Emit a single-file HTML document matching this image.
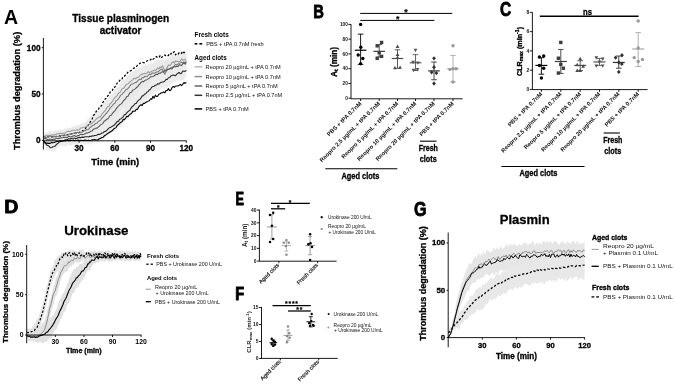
<!DOCTYPE html>
<html><head><meta charset="utf-8"><style>
html,body{margin:0;padding:0;background:#fff;}
svg{display:block;font-family:"Liberation Sans", sans-serif;will-change:transform;filter:blur(0.3px);}
</style></head><body>
<svg width="675" height="384" viewBox="0 0 675 384">
<rect width="675" height="384" fill="#fff"/>
<text transform="translate(3.93 23.70) scale(1.0 1)" x="0" y="0" font-size="19.50" font-weight="bold" fill="#000">A</text>
<text x="120.70" y="21.50" font-size="10.1" font-weight="bold" stroke="#000" stroke-width="0.3" text-anchor="middle" fill="#000">Tissue plasminogen</text>
<text x="120.60" y="33.60" font-size="10.0" font-weight="bold" stroke="#000" stroke-width="0.3" text-anchor="middle" fill="#000">activator</text>
<path d="M43.40,133.97 L44.59,133.18 L45.78,131.83 L46.97,133.21 L48.16,132.51 L49.35,130.76 L50.55,131.27 L51.74,131.68 L52.93,131.33 L54.12,131.27 L55.31,130.55 L56.50,130.06 L57.69,131.13 L58.88,129.36 L60.07,129.56 L61.26,129.34 L62.45,129.97 L63.64,129.54 L64.84,128.04 L66.03,129.81 L67.22,127.21 L68.41,127.86 L69.60,127.90 L70.79,128.04 L71.98,127.09 L73.17,126.53 L74.36,125.75 L75.55,125.97 L76.74,125.15 L77.93,124.74 L79.12,124.91 L80.32,123.87 L81.51,124.62 L82.70,122.27 L83.89,123.62 L85.08,121.89 L86.27,121.32 L87.46,118.75 L88.65,118.51 L89.84,117.27 L91.03,115.76 L92.22,115.64 L93.41,114.93 L94.61,112.86 L95.80,112.72 L96.99,110.31 L98.18,110.94 L99.37,109.20 L100.56,106.42 L101.75,106.30 L102.94,104.31 L104.13,103.07 L105.32,100.54 L106.51,100.48 L107.71,99.54 L108.90,96.01 L110.09,95.72 L111.28,94.61 L112.47,94.22 L113.66,91.03 L114.85,89.55 L116.04,87.91 L117.23,86.35 L118.42,86.76 L119.61,83.45 L120.80,83.21 L122.00,80.95 L123.19,80.38 L124.38,79.20 L125.57,78.22 L126.76,75.73 L127.95,75.13 L129.14,74.67 L130.33,72.13 L131.52,72.85 L132.71,70.62 L133.90,71.03 L135.09,68.98 L136.28,68.29 L137.48,69.10 L138.67,66.94 L139.86,68.14 L141.05,66.68 L142.24,65.36 L143.43,66.61 L144.62,64.46 L145.81,64.04 L147.00,65.50 L148.19,63.23 L149.38,64.05 L150.58,63.43 L151.77,61.61 L152.96,63.70 L154.15,60.78 L155.34,61.52 L156.53,59.65 L157.72,59.66 L158.91,59.40 L160.10,59.94 L161.29,59.62 L162.48,58.97 L163.67,59.58 L164.87,59.94 L166.06,59.04 L167.25,57.31 L168.44,58.51 L169.63,57.33 L170.82,55.22 L172.01,55.17 L173.20,54.02 L174.39,54.57 L175.58,53.63 L176.77,53.67 L177.96,52.86 L179.16,53.56 L180.35,51.08 L181.54,50.88 L182.73,50.86 L183.92,51.92 L185.11,50.75 L186.30,49.95 L186.30,66.35 L185.11,66.87 L183.92,66.72 L182.73,68.92 L181.54,67.10 L180.35,69.79 L179.16,70.14 L177.96,70.52 L176.77,69.11 L175.58,71.04 L174.39,71.57 L173.20,70.58 L172.01,72.84 L170.82,72.43 L169.63,72.54 L168.44,74.52 L167.25,75.32 L166.06,78.00 L164.87,78.29 L163.67,75.87 L162.48,75.31 L161.29,74.34 L160.10,75.60 L158.91,76.59 L157.72,77.97 L156.53,76.76 L155.34,79.28 L154.15,79.88 L152.96,80.24 L151.77,78.50 L150.58,79.64 L149.38,80.08 L148.19,80.10 L147.00,80.58 L145.81,81.15 L144.62,82.39 L143.43,81.80 L142.24,83.84 L141.05,82.59 L139.86,83.01 L138.67,84.56 L137.48,85.75 L136.28,85.04 L135.09,86.42 L133.90,86.76 L132.71,86.75 L131.52,88.49 L130.33,88.93 L129.14,90.06 L127.95,92.66 L126.76,91.86 L125.57,94.01 L124.38,95.79 L123.19,96.17 L122.00,97.40 L120.80,99.09 L119.61,101.91 L118.42,100.89 L117.23,104.27 L116.04,104.69 L114.85,106.50 L113.66,106.86 L112.47,109.90 L111.28,111.29 L110.09,111.19 L108.90,114.08 L107.71,114.94 L106.51,117.58 L105.32,118.47 L104.13,120.26 L102.94,121.66 L101.75,122.93 L100.56,123.87 L99.37,126.64 L98.18,127.38 L96.99,126.35 L95.80,128.00 L94.61,127.90 L93.41,128.98 L92.22,132.49 L91.03,133.29 L89.84,132.14 L88.65,131.90 L87.46,132.46 L86.27,135.03 L85.08,133.80 L83.89,136.04 L82.70,136.94 L81.51,134.74 L80.32,136.53 L79.12,135.83 L77.93,137.07 L76.74,138.35 L75.55,136.31 L74.36,138.80 L73.17,138.81 L71.98,138.93 L70.79,138.23 L69.60,137.86 L68.41,137.81 L67.22,138.37 L66.03,137.94 L64.84,137.80 L63.64,140.31 L62.45,140.12 L61.26,140.61 L60.07,140.62 L58.88,139.58 L57.69,138.45 L56.50,140.10 L55.31,138.78 L54.12,140.86 L52.93,141.47 L51.74,139.73 L50.55,140.67 L49.35,140.47 L48.16,139.41 L46.97,141.00 L45.78,139.07 L44.59,141.09 L43.40,141.24Z" fill="#ebebeb" stroke="none"/>
<path d="M43.40,132.95 L44.59,135.65 L45.78,135.49 L46.97,132.43 L48.16,135.82 L49.35,134.93 L50.55,134.65 L51.74,133.50 L52.93,134.69 L54.12,134.66 L55.31,132.20 L56.50,134.31 L57.69,132.99 L58.88,131.24 L60.07,130.94 L61.26,132.08 L62.45,131.61 L63.64,131.66 L64.84,131.28 L66.03,130.77 L67.22,132.24 L68.41,130.66 L69.60,128.49 L70.79,128.36 L71.98,130.44 L73.17,130.67 L74.36,128.40 L75.55,127.64 L76.74,127.58 L77.93,129.64 L79.12,129.69 L80.32,126.50 L81.51,128.66 L82.70,125.36 L83.89,128.17 L85.08,127.34 L86.27,124.74 L87.46,123.06 L88.65,122.98 L89.84,122.44 L91.03,121.94 L92.22,121.15 L93.41,122.99 L94.61,120.41 L95.80,120.89 L96.99,120.15 L98.18,117.57 L99.37,118.26 L100.56,117.43 L101.75,117.38 L102.94,112.92 L104.13,112.60 L105.32,111.65 L106.51,110.55 L107.71,110.10 L108.90,107.41 L110.09,109.19 L111.28,104.88 L112.47,105.30 L113.66,104.87 L114.85,103.43 L116.04,101.62 L117.23,98.84 L118.42,98.92 L119.61,97.10 L120.80,95.09 L122.00,95.10 L123.19,92.79 L124.38,92.60 L125.57,90.71 L126.76,90.04 L127.95,87.46 L129.14,86.17 L130.33,83.53 L131.52,83.53 L132.71,80.96 L133.90,80.31 L135.09,80.19 L136.28,79.95 L137.48,77.21 L138.67,75.44 L139.86,76.80 L141.05,75.73 L142.24,72.30 L143.43,73.74 L144.62,72.84 L145.81,70.62 L147.00,72.29 L148.19,70.87 L149.38,69.11 L150.58,70.55 L151.77,68.31 L152.96,68.56 L154.15,65.28 L155.34,66.34 L156.53,66.87 L157.72,67.00 L158.91,63.58 L160.10,62.99 L161.29,63.14 L162.48,64.43 L163.67,62.62 L164.87,63.57 L166.06,60.50 L167.25,61.59 L168.44,61.26 L169.63,59.94 L170.82,60.02 L172.01,59.24 L173.20,60.51 L174.39,58.33 L175.58,56.93 L176.77,58.77 L177.96,57.41 L179.16,56.84 L180.35,57.71 L181.54,58.23 L182.73,55.31 L183.92,54.99 L185.11,56.36 L186.30,53.86 L186.30,70.23 L185.11,71.75 L183.92,72.04 L182.73,73.10 L181.54,74.12 L180.35,72.50 L179.16,73.92 L177.96,74.66 L176.77,75.65 L175.58,73.89 L174.39,74.20 L173.20,77.46 L172.01,76.95 L170.82,75.77 L169.63,78.10 L168.44,77.38 L167.25,76.98 L166.06,79.54 L164.87,80.33 L163.67,81.01 L162.48,81.01 L161.29,81.79 L160.10,80.85 L158.91,80.29 L157.72,83.69 L156.53,83.33 L155.34,81.78 L154.15,83.25 L152.96,84.49 L151.77,84.70 L150.58,84.80 L149.38,86.75 L148.19,86.25 L147.00,88.70 L145.81,86.62 L144.62,88.55 L143.43,90.87 L142.24,91.80 L141.05,92.01 L139.86,91.44 L138.67,92.48 L137.48,96.25 L136.28,96.46 L135.09,95.75 L133.90,99.57 L132.71,98.60 L131.52,100.97 L130.33,101.62 L129.14,103.98 L127.95,104.44 L126.76,107.22 L125.57,107.75 L124.38,107.55 L123.19,108.96 L122.00,108.97 L120.80,111.23 L119.61,114.78 L118.42,115.61 L117.23,117.92 L116.04,116.63 L114.85,119.32 L113.66,119.53 L112.47,122.59 L111.28,123.18 L110.09,125.30 L108.90,124.27 L107.71,127.26 L106.51,127.95 L105.32,129.99 L104.13,128.94 L102.94,131.04 L101.75,132.52 L100.56,133.26 L99.37,134.07 L98.18,134.80 L96.99,136.34 L95.80,135.43 L94.61,138.55 L93.41,137.40 L92.22,140.37 L91.03,137.96 L89.84,139.98 L88.65,138.68 L87.46,141.16 L86.27,142.57 L85.08,142.97 L83.89,143.24 L82.70,140.97 L81.51,140.86 L80.32,140.84 L79.12,141.36 L77.93,143.14 L76.74,143.14 L75.55,143.62 L74.36,144.52 L73.17,144.34 L71.98,143.14 L70.79,144.45 L69.60,142.99 L68.41,144.96 L67.22,143.35 L66.03,144.41 L64.84,142.79 L63.64,144.50 L62.45,144.58 L61.26,143.40 L60.07,144.38 L58.88,143.52 L57.69,144.40 L56.50,142.87 L55.31,143.68 L54.12,144.41 L52.93,143.66 L51.74,143.87 L50.55,145.02 L49.35,143.76 L48.16,144.30 L46.97,145.33 L45.78,142.14 L44.59,142.08 L43.40,141.40Z" fill="#e9e9e9" stroke="none"/>
<path d="M43.40,138.01 L44.59,137.77 L45.78,140.53 L46.97,140.75 L48.16,142.30 L49.35,143.89 L50.55,144.42 L51.74,141.94 L52.93,143.74 L54.12,142.26 L55.31,139.92 L56.50,139.66 L57.69,139.05 L58.88,137.50 L60.07,137.89 L61.26,135.18 L62.45,134.55 L63.64,133.50 L64.84,134.52 L66.03,133.82 L67.22,133.26 L68.41,132.30 L69.60,132.98 L70.79,134.92 L71.98,132.20 L73.17,132.43 L74.36,133.38 L75.55,133.68 L76.74,131.14 L77.93,131.16 L79.12,129.69 L80.32,129.81 L81.51,132.33 L82.70,131.42 L83.89,130.06 L85.08,130.63 L86.27,129.02 L87.46,128.18 L88.65,127.69 L89.84,128.16 L91.03,127.63 L92.22,127.19 L93.41,127.30 L94.61,129.43 L95.80,129.27 L96.99,128.62 L98.18,126.22 L99.37,126.78 L100.56,126.76 L101.75,124.61 L102.94,126.19 L104.13,123.52 L105.32,124.04 L106.51,122.43 L107.71,123.86 L108.90,120.19 L110.09,120.59 L111.28,120.63 L112.47,118.95 L113.66,119.33 L114.85,117.79 L116.04,117.18 L117.23,114.73 L118.42,112.77 L119.61,112.87 L120.80,113.21 L122.00,111.36 L123.19,109.21 L124.38,107.44 L125.57,108.06 L126.76,104.60 L127.95,103.15 L129.14,101.38 L130.33,102.69 L131.52,99.36 L132.71,99.85 L133.90,97.33 L135.09,96.40 L136.28,97.22 L137.48,95.44 L138.67,94.61 L139.86,90.21 L141.05,88.68 L142.24,88.11 L143.43,86.46 L144.62,87.71 L145.81,84.22 L147.00,85.54 L148.19,85.09 L149.38,83.17 L150.58,79.86 L151.77,79.52 L152.96,78.27 L154.15,77.22 L155.34,78.46 L156.53,76.47 L157.72,77.72 L158.91,75.41 L160.10,74.81 L161.29,75.00 L162.48,73.52 L163.67,73.75 L164.87,72.28 L166.06,73.22 L167.25,71.03 L168.44,69.48 L169.63,68.70 L170.82,70.10 L172.01,70.37 L173.20,66.49 L174.39,67.42 L175.58,68.81 L176.77,67.79 L177.96,67.70 L179.16,65.67 L180.35,66.57 L181.54,66.18 L182.73,65.02 L183.92,63.91 L185.11,63.75 L186.30,64.79 L186.30,76.87 L185.11,77.56 L183.92,80.20 L182.73,80.60 L181.54,80.21 L180.35,82.13 L179.16,79.01 L177.96,81.78 L176.77,79.99 L175.58,82.64 L174.39,81.06 L173.20,81.55 L172.01,83.25 L170.82,83.83 L169.63,85.87 L168.44,85.51 L167.25,87.79 L166.06,88.36 L164.87,86.28 L163.67,89.42 L162.48,87.36 L161.29,88.50 L160.10,90.00 L158.91,91.45 L157.72,90.48 L156.53,92.27 L155.34,91.98 L154.15,93.11 L152.96,94.55 L151.77,96.11 L150.58,95.08 L149.38,98.06 L148.19,98.09 L147.00,100.90 L145.81,99.18 L144.62,102.21 L143.43,101.19 L142.24,105.62 L141.05,105.18 L139.86,105.41 L138.67,108.36 L137.48,107.33 L136.28,108.80 L135.09,109.74 L133.90,114.58 L132.71,112.60 L131.52,115.84 L130.33,115.73 L129.14,117.08 L127.95,118.92 L126.76,119.44 L125.57,119.84 L124.38,122.15 L123.19,122.71 L122.00,123.65 L120.80,128.01 L119.61,126.96 L118.42,126.70 L117.23,129.03 L116.04,128.61 L114.85,131.36 L113.66,130.96 L112.47,132.19 L111.28,133.16 L110.09,134.14 L108.90,134.75 L107.71,135.77 L106.51,136.60 L105.32,138.50 L104.13,138.67 L102.94,141.31 L101.75,140.03 L100.56,140.73 L99.37,141.88 L98.18,141.93 L96.99,142.18 L95.80,141.42 L94.61,141.11 L93.41,143.03 L92.22,143.13 L91.03,145.20 L89.84,143.11 L88.65,144.54 L87.46,144.16 L86.27,142.47 L85.08,145.25 L83.89,145.52 L82.70,142.40 L81.51,143.50 L80.32,144.52 L79.12,142.77 L77.93,145.90 L76.74,144.09 L75.55,144.39 L74.36,144.59 L73.17,144.43 L71.98,144.63 L70.79,145.76 L69.60,145.69 L68.41,144.88 L67.22,144.33 L66.03,147.02 L64.84,145.78 L63.64,145.30 L62.45,147.51 L61.26,144.68 L60.07,145.87 L58.88,147.68 L57.69,147.17 L56.50,148.14 L55.31,151.28 L54.12,151.94 L52.93,150.32 L51.74,152.53 L50.55,150.03 L49.35,149.94 L48.16,151.19 L46.97,149.88 L45.78,147.33 L44.59,145.82 L43.40,144.51Z" fill="#ececec" stroke="none"/>
<path d="M43.40,136.51 L44.59,136.91 L45.78,136.96 L46.97,136.43 L48.16,136.86 L49.35,136.47 L50.55,136.92 L51.74,136.71 L52.93,136.85 L54.12,136.51 L55.31,136.63 L56.50,136.43 L57.69,136.18 L58.88,135.93 L60.07,136.04 L61.26,135.71 L62.45,135.61 L63.64,135.61 L64.84,135.02 L66.03,134.97 L67.22,134.66 L68.41,134.72 L69.60,134.26 L70.79,134.02 L71.98,133.60 L73.17,133.68 L74.36,133.35 L75.55,133.09 L76.74,133.13 L77.93,132.68 L79.12,132.39 L80.32,131.99 L81.51,131.24 L82.70,130.68 L83.89,130.51 L85.08,129.15 L86.27,127.07 L87.46,126.74 L88.65,124.29 L89.84,122.58 L91.03,120.53 L92.22,118.77 L93.41,115.50 L94.61,114.02 L95.80,112.20 L96.99,110.45 L98.18,109.60 L99.37,107.46 L100.56,106.61 L101.75,105.06 L102.94,102.31 L104.13,100.63 L105.32,98.78 L106.51,98.03 L107.71,95.88 L108.90,94.95 L110.09,92.24 L111.28,90.74 L112.47,90.22 L113.66,87.35 L114.85,87.05 L116.04,85.53 L117.23,82.97 L118.42,82.36 L119.61,80.54 L120.80,78.92 L122.00,78.85 L123.19,76.46 L124.38,76.24 L125.57,74.87 L126.76,73.94 L127.95,72.16 L129.14,71.11 L130.33,70.92 L131.52,70.22 L132.71,69.08 L133.90,68.10 L135.09,67.95 L136.28,67.04 L137.48,65.13 L138.67,64.48 L139.86,63.34 L141.05,62.70 L142.24,62.28 L143.43,62.70 L144.62,62.61 L145.81,61.83 L147.00,61.04 L148.19,60.43 L149.38,59.93 L150.58,59.90 L151.77,58.23 L152.96,59.22 L154.15,58.40 L155.34,56.91 L156.53,56.73 L157.72,57.74 L158.91,57.53 L160.10,55.56 L161.29,57.49 L162.48,56.78 L163.67,55.32 L164.87,55.05 L166.06,55.97 L167.25,56.11 L168.44,55.39 L169.63,53.30 L170.82,54.09 L172.01,52.13 L173.20,52.57 L174.39,51.66 L175.58,54.80 L176.77,54.07 L177.96,54.47 L179.16,52.61 L180.35,52.66 L181.54,53.46 L182.73,51.24 L183.92,52.72 L185.11,51.55 L186.30,51.51" stroke="#000" stroke-width="1.25" fill="none" stroke-dasharray="2.2,1.8" stroke-linejoin="round"/>
<path d="M43.40,136.36 L44.59,136.17 L45.78,135.72 L46.97,135.35 L48.16,135.23 L49.35,135.31 L50.55,135.57 L51.74,134.95 L52.93,134.72 L54.12,135.01 L55.31,134.80 L56.50,133.89 L57.69,133.67 L58.88,133.81 L60.07,133.24 L61.26,133.39 L62.45,133.43 L63.64,133.29 L64.84,133.19 L66.03,132.16 L67.22,131.58 L68.41,131.29 L69.60,131.54 L70.79,131.02 L71.98,130.42 L73.17,130.28 L74.36,130.26 L75.55,130.22 L76.74,129.81 L77.93,129.96 L79.12,129.67 L80.32,128.58 L81.51,127.73 L82.70,127.83 L83.89,127.54 L85.08,127.15 L86.27,126.37 L87.46,125.27 L88.65,125.07 L89.84,123.77 L91.03,124.16 L92.22,123.00 L93.41,121.78 L94.61,120.98 L95.80,119.45 L96.99,118.53 L98.18,117.44 L99.37,116.91 L100.56,116.63 L101.75,114.43 L102.94,112.99 L104.13,111.60 L105.32,110.40 L106.51,108.34 L107.71,106.59 L108.90,106.22 L110.09,103.97 L111.28,102.90 L112.47,101.21 L113.66,99.19 L114.85,97.61 L116.04,96.56 L117.23,95.69 L118.42,93.18 L119.61,92.73 L120.80,90.95 L122.00,89.06 L123.19,88.61 L124.38,87.50 L125.57,85.36 L126.76,84.20 L127.95,83.92 L129.14,82.64 L130.33,81.63 L131.52,80.68 L132.71,79.88 L133.90,78.18 L135.09,78.87 L136.28,78.02 L137.48,77.43 L138.67,76.98 L139.86,75.68 L141.05,74.71 L142.24,73.97 L143.43,73.87 L144.62,73.14 L145.81,74.05 L147.00,73.18 L148.19,71.61 L149.38,72.72 L150.58,71.96 L151.77,71.16 L152.96,71.10 L154.15,70.09 L155.34,70.53 L156.53,69.69 L157.72,67.81 L158.91,68.89 L160.10,66.89 L161.29,67.85 L162.48,65.70 L163.67,68.43 L164.87,70.57 L166.06,69.32 L167.25,67.20 L168.44,64.93 L169.63,65.47 L170.82,64.71 L172.01,62.54 L173.20,61.67 L174.39,63.27 L175.58,60.83 L176.77,61.52 L177.96,61.58 L179.16,61.94 L180.35,60.95 L181.54,58.91 L182.73,60.12 L183.92,59.95 L185.11,59.36 L186.30,58.87" stroke="#999" stroke-width="1.05" fill="none" stroke-linejoin="round"/>
<path d="M43.40,137.78 L44.59,136.97 L45.78,137.72 L46.97,137.41 L48.16,136.38 L49.35,136.13 L50.55,136.14 L51.74,136.98 L52.93,136.86 L54.12,136.17 L55.31,136.71 L56.50,136.27 L57.69,136.54 L58.88,136.70 L60.07,136.13 L61.26,135.47 L62.45,135.25 L63.64,135.31 L64.84,135.25 L66.03,134.98 L67.22,134.91 L68.41,134.56 L69.60,133.97 L70.79,134.51 L71.98,133.80 L73.17,133.15 L74.36,133.02 L75.55,133.61 L76.74,132.41 L77.93,132.33 L79.12,132.94 L80.32,132.44 L81.51,132.15 L82.70,131.97 L83.89,130.43 L85.08,130.78 L86.27,129.54 L87.46,129.86 L88.65,129.35 L89.84,127.59 L91.03,127.04 L92.22,125.83 L93.41,125.28 L94.61,124.54 L95.80,123.27 L96.99,123.21 L98.18,121.66 L99.37,120.84 L100.56,120.20 L101.75,118.23 L102.94,117.23 L104.13,115.62 L105.32,114.43 L106.51,113.13 L107.71,111.71 L108.90,110.01 L110.09,108.12 L111.28,106.76 L112.47,105.37 L113.66,103.91 L114.85,103.18 L116.04,100.73 L117.23,100.22 L118.42,98.94 L119.61,96.92 L120.80,95.10 L122.00,94.38 L123.19,92.78 L124.38,92.12 L125.57,89.97 L126.76,89.54 L127.95,88.33 L129.14,87.08 L130.33,85.41 L131.52,84.07 L132.71,84.00 L133.90,83.39 L135.09,82.39 L136.28,82.47 L137.48,81.20 L138.67,79.84 L139.86,79.20 L141.05,79.56 L142.24,77.63 L143.43,77.84 L144.62,76.35 L145.81,76.83 L147.00,76.56 L148.19,75.47 L149.38,74.36 L150.58,74.62 L151.77,73.31 L152.96,73.07 L154.15,73.22 L155.34,72.84 L156.53,71.96 L157.72,71.67 L158.91,71.22 L160.10,70.18 L161.29,69.23 L162.48,69.31 L163.67,72.30 L164.87,74.24 L166.06,71.61 L167.25,68.77 L168.44,69.25 L169.63,68.83 L170.82,67.75 L172.01,67.29 L173.20,67.32 L174.39,65.73 L175.58,64.41 L176.77,64.89 L177.96,63.98 L179.16,63.34 L180.35,62.88 L181.54,62.26 L182.73,63.02 L183.92,61.98 L185.11,63.00 L186.30,60.62" stroke="#777" stroke-width="1.05" fill="none" stroke-linejoin="round"/>
<path d="M43.40,138.68 L44.59,138.76 L45.78,138.48 L46.97,139.34 L48.16,139.64 L49.35,139.11 L50.55,139.17 L51.74,139.58 L52.93,139.46 L54.12,138.90 L55.31,139.12 L56.50,138.02 L57.69,138.64 L58.88,138.39 L60.07,138.12 L61.26,137.84 L62.45,137.79 L63.64,137.42 L64.84,137.24 L66.03,137.37 L67.22,137.64 L68.41,136.39 L69.60,136.55 L70.79,137.11 L71.98,136.49 L73.17,135.92 L74.36,135.44 L75.55,136.39 L76.74,136.28 L77.93,135.51 L79.12,135.40 L80.32,134.53 L81.51,134.33 L82.70,134.68 L83.89,134.29 L85.08,133.81 L86.27,132.86 L87.46,133.18 L88.65,132.38 L89.84,132.22 L91.03,130.95 L92.22,131.03 L93.41,129.14 L94.61,128.96 L95.80,128.18 L96.99,128.11 L98.18,127.21 L99.37,126.18 L100.56,124.86 L101.75,124.13 L102.94,123.31 L104.13,121.21 L105.32,120.48 L106.51,119.50 L107.71,118.79 L108.90,117.50 L110.09,115.52 L111.28,115.32 L112.47,113.39 L113.66,111.88 L114.85,110.86 L116.04,108.90 L117.23,107.32 L118.42,106.00 L119.61,104.79 L120.80,104.15 L122.00,103.01 L123.19,101.15 L124.38,99.99 L125.57,98.83 L126.76,96.53 L127.95,96.14 L129.14,93.93 L130.33,92.43 L131.52,92.29 L132.71,90.02 L133.90,89.67 L135.09,88.84 L136.28,87.77 L137.48,86.89 L138.67,85.10 L139.86,84.16 L141.05,82.35 L142.24,81.35 L143.43,81.87 L144.62,80.65 L145.81,79.98 L147.00,79.64 L148.19,78.85 L149.38,78.14 L150.58,76.75 L151.77,76.65 L152.96,76.45 L154.15,75.80 L155.34,74.95 L156.53,74.26 L157.72,74.36 L158.91,73.08 L160.10,73.49 L161.29,72.19 L162.48,71.82 L163.67,72.14 L164.87,70.57 L166.06,70.76 L167.25,69.99 L168.44,69.39 L169.63,68.84 L170.82,68.72 L172.01,69.01 L173.20,67.05 L174.39,66.52 L175.58,66.89 L176.77,66.33 L177.96,66.60 L179.16,64.89 L180.35,64.96 L181.54,65.57 L182.73,63.91 L183.92,63.15 L185.11,64.18 L186.30,62.36" stroke="#555" stroke-width="1.05" fill="none" stroke-linejoin="round"/>
<path d="M43.40,141.34 L44.59,142.86 L45.78,143.59 L46.97,145.19 L48.16,145.61 L49.35,146.54 L50.55,147.80 L51.74,147.52 L52.93,146.68 L54.12,146.51 L55.31,145.92 L56.50,144.36 L57.69,143.54 L58.88,142.26 L60.07,141.71 L61.26,140.99 L62.45,141.17 L63.64,140.82 L64.84,139.82 L66.03,139.73 L67.22,139.68 L68.41,138.87 L69.60,138.69 L70.79,138.87 L71.98,138.20 L73.17,138.18 L74.36,138.09 L75.55,138.41 L76.74,138.54 L77.93,137.60 L79.12,137.35 L80.32,137.65 L81.51,137.37 L82.70,137.12 L83.89,137.35 L85.08,136.69 L86.27,136.71 L87.46,136.78 L88.65,136.97 L89.84,136.30 L91.03,136.45 L92.22,135.68 L93.41,136.07 L94.61,135.52 L95.80,135.49 L96.99,134.95 L98.18,134.28 L99.37,134.40 L100.56,134.01 L101.75,133.01 L102.94,132.90 L104.13,131.74 L105.32,131.40 L106.51,130.72 L107.71,129.38 L108.90,128.10 L110.09,127.40 L111.28,127.00 L112.47,126.14 L113.66,125.57 L114.85,124.28 L116.04,123.22 L117.23,121.36 L118.42,121.47 L119.61,119.32 L120.80,118.95 L122.00,117.85 L123.19,116.86 L124.38,114.66 L125.57,114.52 L126.76,112.76 L127.95,111.62 L129.14,110.83 L130.33,109.58 L131.52,107.26 L132.71,106.27 L133.90,105.09 L135.09,103.57 L136.28,103.49 L137.48,101.33 L138.67,100.00 L139.86,99.52 L141.05,97.91 L142.24,95.88 L143.43,95.77 L144.62,93.98 L145.81,93.83 L147.00,91.92 L148.19,91.46 L149.38,89.96 L150.58,89.08 L151.77,87.14 L152.96,86.42 L154.15,86.20 L155.34,85.24 L156.53,85.05 L157.72,83.74 L158.91,84.08 L160.10,82.93 L161.29,82.21 L162.48,81.93 L163.67,81.90 L164.87,80.98 L166.06,79.40 L167.25,79.53 L168.44,77.78 L169.63,77.58 L170.82,76.00 L172.01,75.51 L173.20,75.05 L174.39,75.35 L175.58,75.61 L176.77,74.13 L177.96,73.31 L179.16,72.51 L180.35,73.62 L181.54,73.29 L182.73,71.10 L183.92,71.19 L185.11,71.33 L186.30,70.34" stroke="#2a2a2a" stroke-width="1.1" fill="none" stroke-linejoin="round"/>
<path d="M43.40,140.59 L44.59,141.77 L45.78,143.08 L46.97,143.12 L48.16,143.38 L49.35,143.40 L50.55,143.10 L51.74,142.59 L52.93,142.71 L54.12,142.45 L55.31,142.06 L56.50,141.42 L57.69,141.49 L58.88,141.26 L60.07,140.71 L61.26,140.79 L62.45,140.94 L63.64,140.53 L64.84,140.95 L66.03,140.65 L67.22,140.25 L68.41,140.65 L69.60,140.76 L70.79,140.39 L71.98,140.53 L73.17,140.03 L74.36,140.72 L75.55,140.16 L76.74,140.49 L77.93,140.15 L79.12,140.45 L80.32,140.24 L81.51,140.50 L82.70,140.57 L83.89,140.35 L85.08,140.02 L86.27,140.40 L87.46,140.48 L88.65,140.29 L89.84,140.48 L91.03,140.17 L92.22,139.83 L93.41,139.75 L94.61,139.59 L95.80,139.78 L96.99,139.94 L98.18,139.47 L99.37,138.71 L100.56,138.39 L101.75,137.55 L102.94,137.39 L104.13,136.02 L105.32,135.31 L106.51,134.38 L107.71,133.43 L108.90,132.78 L110.09,131.99 L111.28,131.23 L112.47,130.61 L113.66,128.92 L114.85,128.35 L116.04,127.59 L117.23,125.38 L118.42,124.57 L119.61,123.29 L120.80,122.31 L122.00,121.68 L123.19,119.41 L124.38,119.63 L125.57,118.32 L126.76,116.30 L127.95,116.72 L129.14,115.08 L130.33,114.10 L131.52,113.51 L132.71,111.32 L133.90,111.32 L135.09,111.16 L136.28,109.31 L137.48,109.33 L138.67,106.93 L139.86,105.62 L141.05,104.58 L142.24,105.57 L143.43,103.36 L144.62,103.43 L145.81,102.25 L147.00,101.88 L148.19,101.09 L149.38,100.75 L150.58,98.70 L151.77,99.31 L152.96,96.31 L154.15,98.14 L155.34,95.12 L156.53,96.59 L157.72,96.29 L158.91,93.94 L160.10,93.92 L161.29,92.69 L162.48,92.81 L163.67,91.89 L164.87,92.81 L166.06,90.60 L167.25,90.46 L168.44,88.62 L169.63,90.70 L170.82,89.94 L172.01,87.65 L173.20,86.35 L174.39,87.30 L175.58,86.00 L176.77,85.95 L177.96,85.95 L179.16,85.26 L180.35,84.38 L181.54,85.57 L182.73,84.29 L183.92,82.54 L185.11,83.47 L186.30,82.36" stroke="#000" stroke-width="1.1" fill="none" stroke-linejoin="round"/>
<line x1="43.40" y1="38.00" x2="43.40" y2="149.50" stroke="#000" stroke-width="0.9"/>
<line x1="41.80" y1="47.70" x2="43.40" y2="47.70" stroke="#000" stroke-width="0.9"/>
<text x="40.50" y="50.65" font-size="8.2" font-weight="bold" stroke="#000" stroke-width="0.3" text-anchor="end" fill="#000">100</text>
<line x1="41.80" y1="94.00" x2="43.40" y2="94.00" stroke="#000" stroke-width="0.9"/>
<text x="40.50" y="96.95" font-size="8.2" font-weight="bold" stroke="#000" stroke-width="0.3" text-anchor="end" fill="#000">50</text>
<line x1="41.80" y1="140.40" x2="43.40" y2="140.40" stroke="#000" stroke-width="0.9"/>
<text x="40.50" y="143.35" font-size="8.2" font-weight="bold" stroke="#000" stroke-width="0.3" text-anchor="end" fill="#000">0</text>
<line x1="43.40" y1="140.80" x2="186.50" y2="140.80" stroke="#000" stroke-width="0.9"/>
<line x1="79.10" y1="140.80" x2="79.10" y2="142.80" stroke="#000" stroke-width="0.9"/>
<text x="79.10" y="151.10" font-size="8.2" font-weight="bold" stroke="#000" stroke-width="0.3" text-anchor="middle" fill="#000">30</text>
<line x1="114.80" y1="140.80" x2="114.80" y2="142.80" stroke="#000" stroke-width="0.9"/>
<text x="114.80" y="151.10" font-size="8.2" font-weight="bold" stroke="#000" stroke-width="0.3" text-anchor="middle" fill="#000">60</text>
<line x1="150.50" y1="140.80" x2="150.50" y2="142.80" stroke="#000" stroke-width="0.9"/>
<text x="150.50" y="151.10" font-size="8.2" font-weight="bold" stroke="#000" stroke-width="0.3" text-anchor="middle" fill="#000">90</text>
<line x1="186.30" y1="140.80" x2="186.30" y2="142.80" stroke="#000" stroke-width="0.9"/>
<text x="186.30" y="151.10" font-size="8.2" font-weight="bold" stroke="#000" stroke-width="0.3" text-anchor="middle" fill="#000">120</text>
<text x="115.30" y="165.00" font-size="9.5" font-weight="bold" stroke="#000" stroke-width="0.3" text-anchor="middle" fill="#000">Time (min)</text>
<text x="20.50" y="90.90" font-size="9.3" font-weight="bold" stroke="#000" stroke-width="0.3" text-anchor="middle" fill="#000" transform="rotate(-90 20.50 90.90)">Thrombus degradation (%)</text>
<text x="194.50" y="37.30" font-size="6.5" font-weight="bold" text-anchor="start" fill="#000" textLength="34.20" lengthAdjust="spacingAndGlyphs">Fresh clots</text>
<line x1="194.60" y1="43.80" x2="197.40" y2="43.80" stroke="#000" stroke-width="1.6"/>
<line x1="199.40" y1="43.80" x2="202.20" y2="43.80" stroke="#000" stroke-width="1.6"/>
<text x="206.30" y="45.70" font-size="5.6" text-anchor="start" fill="#111" textLength="57.30" lengthAdjust="spacingAndGlyphs">PBS + tPA 0.7nM fresh</text>
<text x="194.50" y="60.00" font-size="6.5" font-weight="bold" text-anchor="start" fill="#000" textLength="32.20" lengthAdjust="spacingAndGlyphs">Aged clots</text>
<line x1="194.60" y1="66.80" x2="202.20" y2="66.80" stroke="#b8b8b8" stroke-width="1.5"/>
<text x="205.60" y="68.70" font-size="5.62" text-anchor="start" fill="#111">Reopro 20 µg/mL + tPA 0.7nM</text>
<line x1="194.60" y1="76.60" x2="202.20" y2="76.60" stroke="#909090" stroke-width="1.5"/>
<text x="205.60" y="78.50" font-size="5.62" text-anchor="start" fill="#111">Reopro 10 µg/mL + tPA 0.7nM</text>
<line x1="194.60" y1="86.00" x2="202.20" y2="86.00" stroke="#666" stroke-width="1.5"/>
<text x="205.60" y="87.90" font-size="5.62" text-anchor="start" fill="#111">Reopro 5 µg/mL + tPA 0.7nM</text>
<line x1="194.60" y1="95.30" x2="202.20" y2="95.30" stroke="#333" stroke-width="1.5"/>
<text x="205.60" y="97.20" font-size="5.62" text-anchor="start" fill="#111">Reopro 2.5 µg/mL + tPA 0.7nM</text>
<line x1="194.60" y1="108.90" x2="202.20" y2="108.90" stroke="#000" stroke-width="1.5"/>
<text x="205.60" y="110.80" font-size="5.62" text-anchor="start" fill="#111">PBS + tPA 0.7nM</text>
<text transform="translate(313.20 17.70) scale(0.8 1)" x="0" y="0" font-size="18.46" font-weight="bold" fill="#000" stroke="#000" stroke-width="0.8" stroke-linejoin="round">B</text>
<line x1="351.00" y1="24.20" x2="351.00" y2="98.80" stroke="#000" stroke-width="0.9"/>
<line x1="348.40" y1="24.40" x2="351.00" y2="24.40" stroke="#000" stroke-width="0.9"/>
<text x="347.80" y="26.09" font-size="4.7" font-weight="bold" text-anchor="end" fill="#111">100</text>
<line x1="348.40" y1="39.16" x2="351.00" y2="39.16" stroke="#000" stroke-width="0.9"/>
<text x="347.80" y="40.85" font-size="4.7" font-weight="bold" text-anchor="end" fill="#111">80</text>
<line x1="348.40" y1="53.92" x2="351.00" y2="53.92" stroke="#000" stroke-width="0.9"/>
<text x="347.80" y="55.61" font-size="4.7" font-weight="bold" text-anchor="end" fill="#111">60</text>
<line x1="348.40" y1="68.68" x2="351.00" y2="68.68" stroke="#000" stroke-width="0.9"/>
<text x="347.80" y="70.37" font-size="4.7" font-weight="bold" text-anchor="end" fill="#111">40</text>
<line x1="348.40" y1="83.44" x2="351.00" y2="83.44" stroke="#000" stroke-width="0.9"/>
<text x="347.80" y="85.13" font-size="4.7" font-weight="bold" text-anchor="end" fill="#111">20</text>
<line x1="348.40" y1="98.20" x2="351.00" y2="98.20" stroke="#000" stroke-width="0.9"/>
<text x="347.80" y="99.89" font-size="4.7" font-weight="bold" text-anchor="end" fill="#111">0</text>
<line x1="351.00" y1="98.80" x2="462.70" y2="98.80" stroke="#000" stroke-width="0.9"/>
<line x1="360.60" y1="98.80" x2="360.60" y2="101.00" stroke="#000" stroke-width="0.9"/>
<line x1="379.20" y1="98.80" x2="379.20" y2="101.00" stroke="#000" stroke-width="0.9"/>
<line x1="397.50" y1="98.80" x2="397.50" y2="101.00" stroke="#000" stroke-width="0.9"/>
<line x1="415.50" y1="98.80" x2="415.50" y2="101.00" stroke="#000" stroke-width="0.9"/>
<line x1="434.00" y1="98.80" x2="434.00" y2="101.00" stroke="#000" stroke-width="0.9"/>
<line x1="453.00" y1="98.80" x2="453.00" y2="101.00" stroke="#000" stroke-width="0.9"/>
<text x="336.80" y="62.00" font-size="8.2" font-weight="bold" stroke="#000" stroke-width="0.3" text-anchor="middle" fill="#000" transform="rotate(-90 336.80 62.00)">A<tspan font-size="6" dy="1.6">t</tspan><tspan dy="-1.6"> (min)</tspan></text>
<line x1="360.20" y1="13.40" x2="452.30" y2="13.40" stroke="#000" stroke-width="1.0"/>
<text x="406.00" y="14.91" font-size="8.84" font-weight="bold" stroke="#000" stroke-width="0.2" text-anchor="middle" fill="#000">*</text>
<line x1="360.20" y1="20.40" x2="434.40" y2="20.40" stroke="#000" stroke-width="1.0"/>
<text x="397.80" y="21.71" font-size="8.84" font-weight="bold" stroke="#000" stroke-width="0.2" text-anchor="middle" fill="#000">*</text>
<line x1="360.60" y1="34.14" x2="360.60" y2="64.40" stroke="#000" stroke-width="0.9"/>
<line x1="357.80" y1="34.14" x2="363.40" y2="34.14" stroke="#000" stroke-width="0.9"/>
<line x1="357.80" y1="64.40" x2="363.40" y2="64.40" stroke="#000" stroke-width="0.9"/>
<line x1="354.80" y1="50.23" x2="366.40" y2="50.23" stroke="#000" stroke-width="1.2"/>
<circle cx="360.60" cy="24.40" r="1.7" fill="#000"/>
<circle cx="360.80" cy="47.28" r="1.7" fill="#000"/>
<circle cx="358.20" cy="55.03" r="1.7" fill="#000"/>
<circle cx="362.80" cy="58.57" r="1.7" fill="#000"/>
<circle cx="360.60" cy="63.81" r="1.7" fill="#000"/>
<line x1="379.20" y1="44.62" x2="379.20" y2="57.02" stroke="#3c3c3c" stroke-width="0.9"/>
<line x1="376.40" y1="44.62" x2="382.00" y2="44.62" stroke="#3c3c3c" stroke-width="0.9"/>
<line x1="376.40" y1="57.02" x2="382.00" y2="57.02" stroke="#3c3c3c" stroke-width="0.9"/>
<line x1="373.40" y1="51.34" x2="385.00" y2="51.34" stroke="#3c3c3c" stroke-width="1.2"/>
<rect x="375.50" y="44.10" width="3.4" height="3.4" fill="#3c3c3c"/>
<rect x="379.90" y="40.78" width="3.4" height="3.4" fill="#3c3c3c"/>
<rect x="377.50" y="51.04" width="3.4" height="3.4" fill="#3c3c3c"/>
<rect x="375.50" y="56.65" width="3.4" height="3.4" fill="#3c3c3c"/>
<rect x="379.90" y="54.66" width="3.4" height="3.4" fill="#3c3c3c"/>
<line x1="397.50" y1="49.79" x2="397.50" y2="68.31" stroke="#4a4a4a" stroke-width="0.9"/>
<line x1="394.70" y1="49.79" x2="400.30" y2="49.79" stroke="#4a4a4a" stroke-width="0.9"/>
<line x1="394.70" y1="68.31" x2="400.30" y2="68.31" stroke="#4a4a4a" stroke-width="0.9"/>
<line x1="391.70" y1="58.50" x2="403.30" y2="58.50" stroke="#4a4a4a" stroke-width="1.2"/>
<path d="M397.50,44.50 L399.37,47.90 L395.63,47.90Z" fill="#4a4a4a" stroke="none"/>
<path d="M397.50,52.62 L399.37,56.02 L395.63,56.02Z" fill="#4a4a4a" stroke="none"/>
<path d="M394.90,65.90 L396.77,69.30 L393.03,69.30Z" fill="#4a4a4a" stroke="none"/>
<path d="M400.10,65.46 L401.97,68.86 L398.23,68.86Z" fill="#4a4a4a" stroke="none"/>
<path d="M397.50,55.57 L399.37,58.97 L395.63,58.97Z" fill="#4a4a4a" stroke="none"/>
<line x1="415.50" y1="54.66" x2="415.50" y2="70.53" stroke="#555" stroke-width="0.9"/>
<line x1="412.70" y1="54.66" x2="418.30" y2="54.66" stroke="#555" stroke-width="0.9"/>
<line x1="412.70" y1="70.53" x2="418.30" y2="70.53" stroke="#555" stroke-width="0.9"/>
<line x1="409.70" y1="62.78" x2="421.30" y2="62.78" stroke="#555" stroke-width="1.2"/>
<path d="M415.50,52.27 L417.37,48.87 L413.63,48.87Z" fill="#555" stroke="none"/>
<path d="M413.10,64.08 L414.97,60.68 L411.23,60.68Z" fill="#555" stroke="none"/>
<path d="M417.90,64.82 L419.77,61.42 L416.03,61.42Z" fill="#555" stroke="none"/>
<path d="M413.50,72.20 L415.37,68.80 L411.63,68.80Z" fill="#555" stroke="none"/>
<path d="M417.50,71.46 L419.37,68.06 L415.63,68.06Z" fill="#555" stroke="none"/>
<line x1="434.00" y1="62.04" x2="434.00" y2="79.75" stroke="#333" stroke-width="0.9"/>
<line x1="431.20" y1="62.04" x2="436.80" y2="62.04" stroke="#333" stroke-width="0.9"/>
<line x1="431.20" y1="79.75" x2="436.80" y2="79.75" stroke="#333" stroke-width="0.9"/>
<line x1="428.20" y1="70.89" x2="439.80" y2="70.89" stroke="#333" stroke-width="1.2"/>
<path d="M434.00,56.14 L435.87,58.35 L434.00,60.56 L432.13,58.35Z" fill="#333" stroke="none"/>
<path d="M434.00,64.99 L435.87,67.20 L434.00,69.41 L432.13,67.20Z" fill="#333" stroke="none"/>
<path d="M431.60,70.16 L433.47,72.37 L431.60,74.58 L429.73,72.37Z" fill="#333" stroke="none"/>
<path d="M436.40,70.90 L438.27,73.11 L436.40,75.32 L434.53,73.11Z" fill="#333" stroke="none"/>
<path d="M434.00,81.23 L435.87,83.44 L434.00,85.65 L432.13,83.44Z" fill="#333" stroke="none"/>
<line x1="453.00" y1="55.40" x2="453.00" y2="81.96" stroke="#a8a8a8" stroke-width="0.9"/>
<line x1="450.20" y1="55.40" x2="455.80" y2="55.40" stroke="#a8a8a8" stroke-width="0.9"/>
<line x1="450.20" y1="81.96" x2="455.80" y2="81.96" stroke="#a8a8a8" stroke-width="0.9"/>
<line x1="447.20" y1="68.68" x2="458.80" y2="68.68" stroke="#a8a8a8" stroke-width="1.2"/>
<circle cx="453.00" cy="45.80" r="1.7" fill="#9a9a9a"/>
<circle cx="450.00" cy="69.42" r="1.7" fill="#9a9a9a"/>
<circle cx="453.00" cy="68.68" r="1.7" fill="#9a9a9a"/>
<circle cx="456.00" cy="68.68" r="1.7" fill="#9a9a9a"/>
<circle cx="453.00" cy="81.96" r="1.7" fill="#9a9a9a"/>
<text x="361.80" y="104.00" font-size="5.8" font-weight="bold" text-anchor="end" fill="#111" transform="rotate(-45 361.80 104.00)">PBS + tPA 0.7nM</text>
<text x="380.40" y="104.00" font-size="5.8" font-weight="bold" text-anchor="end" fill="#111" transform="rotate(-45 380.40 104.00)">Reopro 2.5 µg/mL + tPA 0.7nM</text>
<text x="398.70" y="104.00" font-size="5.8" font-weight="bold" text-anchor="end" fill="#111" transform="rotate(-45 398.70 104.00)">Reopro 5 µg/mL + tPA 0.7nM</text>
<text x="416.70" y="104.00" font-size="5.8" font-weight="bold" text-anchor="end" fill="#111" transform="rotate(-45 416.70 104.00)">Reopro 10 µg/mL + tPA 0.7nM</text>
<text x="435.20" y="104.00" font-size="5.8" font-weight="bold" text-anchor="end" fill="#111" transform="rotate(-45 435.20 104.00)">Reopro 20 µg/mL + tPA 0.7nM</text>
<text x="454.20" y="104.00" font-size="5.8" font-weight="bold" text-anchor="end" fill="#111" transform="rotate(-45 454.20 104.00)">PBS + tPA 0.7nM</text>
<line x1="325.30" y1="168.70" x2="397.30" y2="168.70" stroke="#000" stroke-width="1.1"/>
<text x="360.40" y="178.60" font-size="8.4" font-weight="bold" stroke="#000" stroke-width="0.3" text-anchor="middle" fill="#000" textLength="38.00" lengthAdjust="spacingAndGlyphs">Aged clots</text>
<line x1="420.00" y1="141.20" x2="436.50" y2="141.20" stroke="#000" stroke-width="1.1"/>
<text x="428.30" y="151.40" font-size="8.4" font-weight="bold" stroke="#000" stroke-width="0.3" text-anchor="middle" fill="#000" textLength="19.30" lengthAdjust="spacingAndGlyphs">Fresh</text>
<text x="428.30" y="162.00" font-size="8.4" font-weight="bold" stroke="#000" stroke-width="0.3" text-anchor="middle" fill="#000" textLength="17.00" lengthAdjust="spacingAndGlyphs">clots</text>
<text transform="translate(500.02 15.60) scale(0.78 1)" x="0" y="0" font-size="19.96" font-weight="bold" fill="#000" stroke="#000" stroke-width="0.8" stroke-linejoin="round">C</text>
<line x1="532.40" y1="12.30" x2="532.40" y2="89.90" stroke="#000" stroke-width="0.9"/>
<line x1="529.80" y1="12.40" x2="532.40" y2="12.40" stroke="#000" stroke-width="0.9"/>
<text x="529.20" y="14.16" font-size="4.9" font-weight="bold" text-anchor="end" fill="#111">8</text>
<line x1="529.80" y1="31.65" x2="532.40" y2="31.65" stroke="#000" stroke-width="0.9"/>
<text x="529.20" y="33.41" font-size="4.9" font-weight="bold" text-anchor="end" fill="#111">6</text>
<line x1="529.80" y1="50.90" x2="532.40" y2="50.90" stroke="#000" stroke-width="0.9"/>
<text x="529.20" y="52.66" font-size="4.9" font-weight="bold" text-anchor="end" fill="#111">4</text>
<line x1="529.80" y1="70.15" x2="532.40" y2="70.15" stroke="#000" stroke-width="0.9"/>
<text x="529.20" y="71.91" font-size="4.9" font-weight="bold" text-anchor="end" fill="#111">2</text>
<line x1="529.80" y1="89.40" x2="532.40" y2="89.40" stroke="#000" stroke-width="0.9"/>
<text x="529.20" y="91.16" font-size="4.9" font-weight="bold" text-anchor="end" fill="#111">0</text>
<line x1="532.40" y1="89.60" x2="647.60" y2="89.60" stroke="#000" stroke-width="0.9"/>
<line x1="541.40" y1="89.60" x2="541.40" y2="91.80" stroke="#000" stroke-width="0.9"/>
<line x1="560.80" y1="89.60" x2="560.80" y2="91.80" stroke="#000" stroke-width="0.9"/>
<line x1="580.20" y1="89.60" x2="580.20" y2="91.80" stroke="#000" stroke-width="0.9"/>
<line x1="599.50" y1="89.60" x2="599.50" y2="91.80" stroke="#000" stroke-width="0.9"/>
<line x1="618.80" y1="89.60" x2="618.80" y2="91.80" stroke="#000" stroke-width="0.9"/>
<line x1="638.20" y1="89.60" x2="638.20" y2="91.80" stroke="#000" stroke-width="0.9"/>
<text x="521.90" y="51.50" font-size="7.2" font-weight="bold" stroke="#000" stroke-width="0.3" text-anchor="middle" fill="#000" transform="rotate(-90 521.90 51.50)">CLR<tspan font-size="5.1" dy="1.5">max</tspan><tspan dy="-1.5"> (min</tspan><tspan font-size="5.1" dy="-2.8">-1</tspan><tspan dy="2.8">)</tspan></text>
<line x1="539.80" y1="16.20" x2="638.60" y2="16.20" stroke="#000" stroke-width="1.5"/>
<text x="587.45" y="14.80" font-size="9.6" font-weight="bold" stroke="#000" stroke-width="0.3" text-anchor="middle" fill="#000" textLength="9.00" lengthAdjust="spacingAndGlyphs">ns</text>
<line x1="541.40" y1="57.73" x2="541.40" y2="74.19" stroke="#000" stroke-width="0.9"/>
<line x1="538.60" y1="57.73" x2="544.20" y2="57.73" stroke="#000" stroke-width="0.9"/>
<line x1="538.60" y1="74.19" x2="544.20" y2="74.19" stroke="#000" stroke-width="0.9"/>
<line x1="535.40" y1="65.43" x2="547.40" y2="65.43" stroke="#000" stroke-width="1.2"/>
<circle cx="539.40" cy="57.06" r="1.7" fill="#000"/>
<circle cx="543.70" cy="56.00" r="1.7" fill="#000"/>
<circle cx="539.40" cy="65.43" r="1.7" fill="#000"/>
<circle cx="543.70" cy="68.23" r="1.7" fill="#000"/>
<circle cx="541.40" cy="78.04" r="1.7" fill="#000"/>
<line x1="560.80" y1="49.46" x2="560.80" y2="73.42" stroke="#3c3c3c" stroke-width="0.9"/>
<line x1="558.00" y1="49.46" x2="563.60" y2="49.46" stroke="#3c3c3c" stroke-width="0.9"/>
<line x1="558.00" y1="73.42" x2="563.60" y2="73.42" stroke="#3c3c3c" stroke-width="0.9"/>
<line x1="554.80" y1="61.49" x2="566.80" y2="61.49" stroke="#3c3c3c" stroke-width="1.2"/>
<rect x="559.10" y="40.73" width="3.4" height="3.4" fill="#3c3c3c"/>
<rect x="556.70" y="56.52" width="3.4" height="3.4" fill="#3c3c3c"/>
<rect x="561.70" y="66.53" width="3.4" height="3.4" fill="#3c3c3c"/>
<rect x="556.70" y="71.34" width="3.4" height="3.4" fill="#3c3c3c"/>
<rect x="559.10" y="62.67" width="3.4" height="3.4" fill="#3c3c3c"/>
<line x1="580.20" y1="60.72" x2="580.20" y2="70.63" stroke="#4a4a4a" stroke-width="0.9"/>
<line x1="577.40" y1="60.72" x2="583.00" y2="60.72" stroke="#4a4a4a" stroke-width="0.9"/>
<line x1="577.40" y1="70.63" x2="583.00" y2="70.63" stroke="#4a4a4a" stroke-width="0.9"/>
<line x1="574.20" y1="65.43" x2="586.20" y2="65.43" stroke="#4a4a4a" stroke-width="1.2"/>
<path d="M580.20,56.85 L582.07,60.25 L578.33,60.25Z" fill="#4a4a4a" stroke="none"/>
<path d="M577.20,62.82 L579.07,66.22 L575.33,66.22Z" fill="#4a4a4a" stroke="none"/>
<path d="M583.20,64.26 L585.07,67.66 L581.33,67.66Z" fill="#4a4a4a" stroke="none"/>
<path d="M580.20,68.59 L582.07,71.99 L578.33,71.99Z" fill="#4a4a4a" stroke="none"/>
<path d="M577.20,68.59 L579.07,71.99 L575.33,71.99Z" fill="#4a4a4a" stroke="none"/>
<line x1="599.50" y1="58.41" x2="599.50" y2="65.43" stroke="#555" stroke-width="0.9"/>
<line x1="596.70" y1="58.41" x2="602.30" y2="58.41" stroke="#555" stroke-width="0.9"/>
<line x1="596.70" y1="65.43" x2="602.30" y2="65.43" stroke="#555" stroke-width="0.9"/>
<line x1="593.50" y1="61.97" x2="605.50" y2="61.97" stroke="#555" stroke-width="1.2"/>
<path d="M596.30,59.68 L598.17,56.28 L594.43,56.28Z" fill="#555" stroke="none"/>
<path d="M602.70,60.93 L604.57,57.53 L600.83,57.53Z" fill="#555" stroke="none"/>
<path d="M599.50,64.01 L601.37,60.61 L597.63,60.61Z" fill="#555" stroke="none"/>
<path d="M596.30,67.86 L598.17,64.46 L594.43,64.46Z" fill="#555" stroke="none"/>
<path d="M602.70,67.86 L604.57,64.46 L600.83,64.46Z" fill="#555" stroke="none"/>
<line x1="618.80" y1="56.00" x2="618.80" y2="68.23" stroke="#333" stroke-width="0.9"/>
<line x1="616.00" y1="56.00" x2="621.60" y2="56.00" stroke="#333" stroke-width="0.9"/>
<line x1="616.00" y1="68.23" x2="621.60" y2="68.23" stroke="#333" stroke-width="0.9"/>
<line x1="612.80" y1="62.45" x2="624.80" y2="62.45" stroke="#333" stroke-width="1.2"/>
<path d="M615.60,55.43 L617.47,57.64 L615.60,59.85 L613.73,57.64Z" fill="#333" stroke="none"/>
<path d="M622.00,53.02 L623.87,55.23 L622.00,57.44 L620.13,55.23Z" fill="#333" stroke="none"/>
<path d="M618.80,60.24 L620.67,62.45 L618.80,64.66 L616.93,62.45Z" fill="#333" stroke="none"/>
<path d="M621.80,61.68 L623.67,63.89 L621.80,66.10 L619.93,63.89Z" fill="#333" stroke="none"/>
<path d="M618.80,69.67 L620.67,71.88 L618.80,74.09 L616.93,71.88Z" fill="#333" stroke="none"/>
<line x1="638.20" y1="32.61" x2="638.20" y2="66.49" stroke="#a8a8a8" stroke-width="0.9"/>
<line x1="635.40" y1="32.61" x2="641.00" y2="32.61" stroke="#a8a8a8" stroke-width="0.9"/>
<line x1="635.40" y1="66.49" x2="641.00" y2="66.49" stroke="#a8a8a8" stroke-width="0.9"/>
<line x1="632.20" y1="48.98" x2="644.20" y2="48.98" stroke="#a8a8a8" stroke-width="1.2"/>
<circle cx="638.20" cy="21.06" r="1.7" fill="#9a9a9a"/>
<circle cx="638.20" cy="48.01" r="1.7" fill="#9a9a9a"/>
<circle cx="634.20" cy="57.64" r="1.7" fill="#9a9a9a"/>
<circle cx="638.20" cy="61.49" r="1.7" fill="#9a9a9a"/>
<circle cx="642.50" cy="59.56" r="1.7" fill="#9a9a9a"/>
<text x="542.60" y="94.60" font-size="5.8" font-weight="bold" text-anchor="end" fill="#111" transform="rotate(-45 542.60 94.60)">PBS + tPA 0.7nM</text>
<text x="562.00" y="94.60" font-size="5.8" font-weight="bold" text-anchor="end" fill="#111" transform="rotate(-45 562.00 94.60)">Reopro 2.5 µg/mL + tPA 0.7nM</text>
<text x="581.40" y="94.60" font-size="5.8" font-weight="bold" text-anchor="end" fill="#111" transform="rotate(-45 581.40 94.60)">Reopro 5 µg/mL + tPA 0.7nM</text>
<text x="600.70" y="94.60" font-size="5.8" font-weight="bold" text-anchor="end" fill="#111" transform="rotate(-45 600.70 94.60)">Reopro 10 µg/mL + tPA 0.7nM</text>
<text x="620.00" y="94.60" font-size="5.8" font-weight="bold" text-anchor="end" fill="#111" transform="rotate(-45 620.00 94.60)">Reopro 20 µg/mL + tPA 0.7nM</text>
<text x="639.40" y="94.60" font-size="5.8" font-weight="bold" text-anchor="end" fill="#111" transform="rotate(-45 639.40 94.60)">PBS + tPA 0.7nM</text>
<line x1="501.40" y1="166.50" x2="584.50" y2="166.50" stroke="#000" stroke-width="1.1"/>
<text x="538.40" y="175.50" font-size="8.4" font-weight="bold" stroke="#000" stroke-width="0.3" text-anchor="middle" fill="#000" textLength="37.80" lengthAdjust="spacingAndGlyphs">Aged clots</text>
<line x1="603.70" y1="133.00" x2="619.80" y2="133.00" stroke="#000" stroke-width="1.1"/>
<text x="612.80" y="143.40" font-size="8.4" font-weight="bold" stroke="#000" stroke-width="0.3" text-anchor="middle" fill="#000" textLength="19.30" lengthAdjust="spacingAndGlyphs">Fresh</text>
<text x="612.80" y="153.60" font-size="8.4" font-weight="bold" stroke="#000" stroke-width="0.3" text-anchor="middle" fill="#000" textLength="17.00" lengthAdjust="spacingAndGlyphs">clots</text>
<text transform="translate(4.30 213.10) scale(1.06 1)" x="0" y="0" font-size="18.46" font-weight="bold" fill="#000" stroke="#000" stroke-width="0.8" stroke-linejoin="round">D</text>
<text x="96.30" y="234.90" font-size="13.3" font-weight="bold" stroke="#000" stroke-width="0.3" text-anchor="middle" fill="#000">Urokinase</text>
<path d="M26.70,329.87 L27.65,328.38 L28.61,328.27 L29.56,329.33 L30.51,328.91 L31.47,328.19 L32.42,326.31 L33.37,326.42 L34.33,323.76 L35.28,322.70 L36.23,320.01 L37.19,318.57 L38.14,318.62 L39.09,315.35 L40.05,312.91 L41.00,308.35 L41.95,305.69 L42.91,303.96 L43.86,298.37 L44.81,295.72 L45.77,291.28 L46.72,286.12 L47.67,283.90 L48.63,279.13 L49.58,274.70 L50.53,270.40 L51.49,269.17 L52.44,267.43 L53.39,265.61 L54.35,261.32 L55.30,259.30 L56.25,258.53 L57.21,257.60 L58.16,255.54 L59.11,255.55 L60.07,255.85 L61.02,253.05 L61.97,251.72 L62.93,252.49 L63.88,253.10 L64.83,252.26 L65.79,252.18 L66.74,251.75 L67.69,250.83 L68.65,251.75 L69.60,250.19 L70.55,249.31 L71.51,251.07 L72.46,250.83 L73.41,248.92 L74.37,251.46 L75.32,251.30 L76.27,250.17 L77.23,252.08 L78.18,250.93 L79.13,249.06 L80.09,250.49 L81.04,250.00 L81.99,249.30 L82.95,249.40 L83.90,250.98 L84.85,251.93 L85.81,252.08 L86.76,251.63 L87.71,251.23 L88.67,252.35 L89.62,252.04 L90.57,252.31 L91.53,250.43 L92.48,251.62 L93.43,251.28 L94.39,249.73 L95.34,250.99 L96.29,252.24 L97.25,251.43 L98.20,249.88 L99.15,252.50 L100.11,250.89 L101.06,250.86 L102.01,250.93 L102.97,249.87 L103.92,251.84 L104.87,252.16 L105.83,251.00 L106.78,251.68 L107.73,250.14 L108.69,250.03 L109.64,250.16 L110.59,252.09 L111.55,251.70 L112.50,252.78 L113.45,252.05 L114.41,249.82 L115.36,249.91 L116.31,249.87 L117.27,252.26 L118.22,252.36 L119.17,251.00 L120.13,250.32 L121.08,250.95 L122.03,252.80 L122.99,250.16 L123.94,250.70 L124.89,252.56 L125.85,252.09 L126.80,250.04 L127.75,251.91 L128.71,250.88 L129.66,252.83 L130.61,250.34 L131.57,252.81 L132.52,250.14 L133.47,252.20 L134.43,252.92 L135.38,250.23 L136.33,251.69 L137.29,252.01 L138.24,250.76 L139.19,252.64 L140.15,252.70 L141.10,252.65 L141.10,258.07 L140.15,258.61 L139.19,257.67 L138.24,257.40 L137.29,259.53 L136.33,259.73 L135.38,258.81 L134.43,256.76 L133.47,258.49 L132.52,258.84 L131.57,259.38 L130.61,259.32 L129.66,257.20 L128.71,257.26 L127.75,259.77 L126.80,257.99 L125.85,259.30 L124.89,259.26 L123.94,258.25 L122.99,259.23 L122.03,258.84 L121.08,259.29 L120.13,258.25 L119.17,259.61 L118.22,257.36 L117.27,257.44 L116.31,257.88 L115.36,259.89 L114.41,258.15 L113.45,258.94 L112.50,257.60 L111.55,256.79 L110.59,258.37 L109.64,259.09 L108.69,259.30 L107.73,259.88 L106.78,257.42 L105.83,259.21 L104.87,259.19 L103.92,257.88 L102.97,258.94 L102.01,259.85 L101.06,256.78 L100.11,257.17 L99.15,259.76 L98.20,257.21 L97.25,257.54 L96.29,257.02 L95.34,258.25 L94.39,259.89 L93.43,257.08 L92.48,257.81 L91.53,257.17 L90.57,259.51 L89.62,257.86 L88.67,257.17 L87.71,256.85 L86.76,257.21 L85.81,256.90 L84.85,258.73 L83.90,257.97 L82.95,259.26 L81.99,259.20 L81.04,256.85 L80.09,258.67 L79.13,258.91 L78.18,258.50 L77.23,258.03 L76.27,257.52 L75.32,258.24 L74.37,257.42 L73.41,257.16 L72.46,259.53 L71.51,258.01 L70.55,259.46 L69.60,259.56 L68.65,258.22 L67.69,259.68 L66.74,257.77 L65.79,259.67 L64.83,258.03 L63.88,260.15 L62.93,262.03 L61.97,262.08 L61.02,265.77 L60.07,266.38 L59.11,267.94 L58.16,270.66 L57.21,270.95 L56.25,273.34 L55.30,274.43 L54.35,277.05 L53.39,279.40 L52.44,281.12 L51.49,284.70 L50.53,285.78 L49.58,289.93 L48.63,295.70 L47.67,298.70 L46.72,303.21 L45.77,306.09 L44.81,311.11 L43.86,314.53 L42.91,317.52 L41.95,320.47 L41.00,324.53 L40.05,327.63 L39.09,330.60 L38.14,330.44 L37.19,332.60 L36.23,333.00 L35.28,334.88 L34.33,337.23 L33.37,335.29 L32.42,337.45 L31.47,335.17 L30.51,336.24 L29.56,336.32 L28.61,335.70 L27.65,334.59 L26.70,334.63Z" fill="#e3e3e3" stroke="none"/>
<path d="M26.70,334.62 L27.65,333.67 L28.61,332.74 L29.56,333.08 L30.51,332.63 L31.47,332.37 L32.42,332.36 L33.37,333.40 L34.33,332.40 L35.28,330.16 L36.23,330.99 L37.19,329.79 L38.14,330.64 L39.09,329.43 L40.05,326.80 L41.00,326.37 L41.95,323.96 L42.91,323.33 L43.86,321.89 L44.81,319.71 L45.77,316.83 L46.72,312.93 L47.67,308.29 L48.63,305.09 L49.58,299.82 L50.53,298.19 L51.49,294.75 L52.44,291.16 L53.39,285.68 L54.35,284.92 L55.30,280.70 L56.25,277.14 L57.21,276.21 L58.16,272.59 L59.11,267.74 L60.07,267.79 L61.02,264.56 L61.97,263.87 L62.93,260.73 L63.88,260.04 L64.83,260.83 L65.79,258.08 L66.74,259.26 L67.69,256.42 L68.65,258.21 L69.60,258.11 L70.55,257.04 L71.51,256.24 L72.46,254.66 L73.41,256.53 L74.37,254.94 L75.32,256.05 L76.27,253.74 L77.23,255.38 L78.18,253.27 L79.13,254.81 L80.09,254.63 L81.04,253.16 L81.99,252.69 L82.95,253.54 L83.90,252.71 L84.85,254.07 L85.81,254.28 L86.76,253.44 L87.71,252.01 L88.67,252.86 L89.62,253.36 L90.57,253.69 L91.53,252.14 L92.48,253.91 L93.43,251.51 L94.39,251.90 L95.34,252.96 L96.29,253.30 L97.25,252.36 L98.20,253.48 L99.15,252.32 L100.11,253.30 L101.06,254.45 L102.01,254.41 L102.97,253.82 L103.92,254.38 L104.87,251.86 L105.83,253.77 L106.78,253.75 L107.73,254.19 L108.69,253.87 L109.64,251.59 L110.59,253.95 L111.55,253.75 L112.50,254.76 L113.45,253.24 L114.41,254.14 L115.36,254.78 L116.31,254.52 L117.27,254.68 L118.22,253.85 L119.17,252.95 L120.13,252.43 L121.08,252.55 L122.03,253.62 L122.99,251.71 L123.94,252.56 L124.89,254.77 L125.85,252.04 L126.80,252.57 L127.75,254.50 L128.71,253.33 L129.66,252.37 L130.61,253.09 L131.57,252.79 L132.52,254.26 L133.47,254.59 L134.43,254.69 L135.38,253.23 L136.33,253.03 L137.29,253.48 L138.24,252.50 L139.19,253.46 L140.15,252.97 L141.10,252.73 L141.10,259.15 L140.15,258.56 L139.19,260.09 L138.24,260.78 L137.29,258.39 L136.33,260.59 L135.38,260.43 L134.43,261.11 L133.47,259.59 L132.52,258.54 L131.57,260.69 L130.61,261.34 L129.66,261.14 L128.71,261.18 L127.75,260.19 L126.80,261.13 L125.85,260.54 L124.89,261.23 L123.94,260.62 L122.99,259.04 L122.03,259.62 L121.08,261.41 L120.13,260.71 L119.17,260.31 L118.22,259.36 L117.27,258.70 L116.31,259.92 L115.36,259.50 L114.41,260.29 L113.45,260.29 L112.50,259.91 L111.55,259.84 L110.59,261.82 L109.64,260.48 L108.69,261.83 L107.73,260.18 L106.78,260.23 L105.83,259.54 L104.87,260.94 L103.92,261.50 L102.97,259.32 L102.01,261.20 L101.06,259.24 L100.11,259.95 L99.15,260.90 L98.20,261.54 L97.25,262.04 L96.29,260.51 L95.34,261.58 L94.39,260.29 L93.43,259.25 L92.48,260.46 L91.53,260.71 L90.57,259.00 L89.62,259.02 L88.67,259.54 L87.71,259.92 L86.76,259.98 L85.81,259.65 L84.85,259.54 L83.90,259.80 L82.95,259.46 L81.99,262.12 L81.04,260.40 L80.09,262.34 L79.13,262.57 L78.18,262.66 L77.23,263.42 L76.27,262.13 L75.32,261.35 L74.37,263.88 L73.41,265.36 L72.46,264.06 L71.51,267.01 L70.55,265.33 L69.60,268.28 L68.65,267.48 L67.69,270.71 L66.74,271.79 L65.79,271.43 L64.83,272.18 L63.88,274.01 L62.93,274.43 L61.97,277.36 L61.02,279.69 L60.07,282.61 L59.11,286.64 L58.16,288.57 L57.21,293.23 L56.25,296.46 L55.30,296.74 L54.35,301.28 L53.39,304.77 L52.44,307.33 L51.49,309.64 L50.53,314.00 L49.58,317.07 L48.63,324.14 L47.67,326.48 L46.72,332.44 L45.77,335.94 L44.81,336.78 L43.86,339.01 L42.91,339.53 L41.95,340.28 L41.00,341.94 L40.05,341.58 L39.09,341.13 L38.14,342.15 L37.19,342.83 L36.23,341.78 L35.28,341.72 L34.33,341.26 L33.37,342.13 L32.42,339.86 L31.47,338.96 L30.51,340.16 L29.56,340.95 L28.61,340.45 L27.65,338.55 L26.70,339.60Z" fill="#e1e1e1" stroke="none"/>
<path d="M26.70,334.85 L27.65,332.62 L28.61,332.57 L29.56,333.34 L30.51,333.37 L31.47,332.42 L32.42,332.66 L33.37,333.97 L34.33,331.62 L35.28,331.76 L36.23,332.97 L37.19,330.58 L38.14,330.08 L39.09,330.04 L40.05,329.59 L41.00,327.60 L41.95,326.71 L42.91,329.10 L43.86,325.71 L44.81,326.01 L45.77,325.89 L46.72,324.83 L47.67,323.85 L48.63,319.86 L49.58,318.83 L50.53,317.07 L51.49,317.78 L52.44,315.46 L53.39,315.43 L54.35,312.30 L55.30,311.54 L56.25,309.11 L57.21,308.18 L58.16,303.46 L59.11,301.08 L60.07,298.99 L61.02,298.54 L61.97,294.36 L62.93,294.24 L63.88,292.32 L64.83,290.66 L65.79,287.85 L66.74,285.75 L67.69,282.69 L68.65,280.97 L69.60,277.19 L70.55,275.96 L71.51,272.94 L72.46,271.82 L73.41,270.19 L74.37,268.77 L75.32,269.37 L76.27,266.43 L77.23,267.04 L78.18,266.78 L79.13,263.77 L80.09,263.98 L81.04,263.47 L81.99,263.90 L82.95,262.94 L83.90,261.11 L84.85,258.83 L85.81,259.28 L86.76,259.20 L87.71,257.92 L88.67,257.57 L89.62,255.84 L90.57,254.60 L91.53,255.03 L92.48,254.55 L93.43,255.12 L94.39,251.78 L95.34,252.98 L96.29,251.59 L97.25,253.36 L98.20,252.88 L99.15,251.03 L100.11,251.22 L101.06,253.95 L102.01,251.25 L102.97,252.40 L103.92,253.06 L104.87,251.68 L105.83,251.22 L106.78,254.03 L107.73,252.71 L108.69,251.38 L109.64,252.35 L110.59,252.99 L111.55,254.35 L112.50,253.75 L113.45,252.44 L114.41,254.13 L115.36,252.51 L116.31,254.22 L117.27,252.91 L118.22,253.37 L119.17,252.70 L120.13,253.69 L121.08,251.59 L122.03,251.85 L122.99,253.97 L123.94,251.64 L124.89,253.77 L125.85,253.18 L126.80,253.45 L127.75,252.67 L128.71,254.11 L129.66,253.77 L130.61,252.68 L131.57,252.33 L132.52,253.30 L133.47,251.81 L134.43,252.32 L135.38,254.27 L136.33,254.05 L137.29,253.43 L138.24,254.33 L139.19,252.92 L140.15,254.61 L141.10,254.42 L141.10,261.48 L140.15,259.63 L139.19,261.44 L138.24,259.74 L137.29,259.02 L136.33,261.51 L135.38,260.91 L134.43,259.22 L133.47,259.50 L132.52,259.18 L131.57,260.92 L130.61,259.20 L129.66,259.93 L128.71,258.71 L127.75,261.60 L126.80,259.47 L125.85,260.83 L124.89,258.75 L123.94,260.97 L122.99,259.52 L122.03,260.27 L121.08,260.84 L120.13,260.27 L119.17,258.83 L118.22,259.54 L117.27,260.72 L116.31,259.09 L115.36,261.13 L114.41,259.71 L113.45,259.90 L112.50,261.91 L111.55,261.49 L110.59,260.76 L109.64,261.47 L108.69,261.35 L107.73,261.24 L106.78,259.56 L105.83,259.88 L104.87,261.86 L103.92,262.11 L102.97,259.14 L102.01,260.83 L101.06,261.83 L100.11,259.92 L99.15,262.98 L98.20,262.07 L97.25,261.82 L96.29,262.18 L95.34,264.06 L94.39,263.06 L93.43,264.28 L92.48,265.49 L91.53,267.26 L90.57,268.12 L89.62,270.88 L88.67,270.08 L87.71,270.78 L86.76,272.14 L85.81,273.77 L84.85,278.13 L83.90,277.14 L82.95,280.81 L81.99,279.81 L81.04,281.96 L80.09,283.05 L79.13,284.31 L78.18,287.24 L77.23,287.35 L76.27,288.07 L75.32,289.26 L74.37,292.65 L73.41,293.25 L72.46,293.41 L71.51,296.73 L70.55,299.79 L69.60,301.39 L68.65,303.85 L67.69,303.42 L66.74,305.75 L65.79,310.00 L64.83,311.76 L63.88,311.31 L62.93,314.61 L61.97,317.17 L61.02,318.57 L60.07,320.27 L59.11,323.67 L58.16,323.72 L57.21,327.65 L56.25,329.76 L55.30,329.89 L54.35,331.39 L53.39,333.55 L52.44,333.51 L51.49,337.69 L50.53,338.35 L49.58,338.68 L48.63,338.34 L47.67,340.39 L46.72,341.21 L45.77,342.85 L44.81,340.98 L43.86,343.56 L42.91,342.13 L41.95,343.80 L41.00,341.45 L40.05,341.23 L39.09,342.37 L38.14,341.78 L37.19,342.99 L36.23,341.46 L35.28,340.48 L34.33,341.27 L33.37,340.95 L32.42,340.09 L31.47,341.40 L30.51,341.06 L29.56,339.53 L28.61,340.88 L27.65,337.84 L26.70,337.56Z" fill="#e1e1e1" stroke="none"/>
<path d="M26.70,336.15 L27.65,336.38 L28.61,336.52 L29.56,336.32 L30.51,335.93 L31.47,336.08 L32.42,336.37 L33.37,335.94 L34.33,335.87 L35.28,336.40 L36.23,336.43 L37.19,335.44 L38.14,335.52 L39.09,335.78 L40.05,334.46 L41.00,334.12 L41.95,333.03 L42.91,331.98 L43.86,330.57 L44.81,329.18 L45.77,325.92 L46.72,322.93 L47.67,318.22 L48.63,314.42 L49.58,308.62 L50.53,305.98 L51.49,302.11 L52.44,297.83 L53.39,294.19 L54.35,292.29 L55.30,290.39 L56.25,286.78 L57.21,283.70 L58.16,279.72 L59.11,277.91 L60.07,274.75 L61.02,271.70 L61.97,271.11 L62.93,268.70 L63.88,266.71 L64.83,265.44 L65.79,265.68 L66.74,264.87 L67.69,263.99 L68.65,261.77 L69.60,262.49 L70.55,260.89 L71.51,259.96 L72.46,260.63 L73.41,260.24 L74.37,258.03 L75.32,258.46 L76.27,258.97 L77.23,257.39 L78.18,258.19 L79.13,258.08 L80.09,258.64 L81.04,256.20 L81.99,255.44 L82.95,256.30 L83.90,255.29 L84.85,258.26 L85.81,257.58 L86.76,256.80 L87.71,255.25 L88.67,255.26 L89.62,257.09 L90.57,257.52 L91.53,256.95 L92.48,256.74 L93.43,255.34 L94.39,257.74 L95.34,255.74 L96.29,255.95 L97.25,255.68 L98.20,255.84 L99.15,256.37 L100.11,257.28 L101.06,257.30 L102.01,257.17 L102.97,255.81 L103.92,258.08 L104.87,257.70 L105.83,255.90 L106.78,257.54 L107.73,258.13 L108.69,258.23 L109.64,256.55 L110.59,257.28 L111.55,255.17 L112.50,255.48 L113.45,255.15 L114.41,257.48 L115.36,258.06 L116.31,258.02 L117.27,256.73 L118.22,256.04 L119.17,256.89 L120.13,257.58 L121.08,256.99 L122.03,256.33 L122.99,256.16 L123.94,255.92 L124.89,255.60 L125.85,256.19 L126.80,257.94 L127.75,255.62 L128.71,257.39 L129.66,256.51 L130.61,257.13 L131.57,255.95 L132.52,257.69 L133.47,257.54 L134.43,257.54 L135.38,257.84 L136.33,255.48 L137.29,256.47 L138.24,257.28 L139.19,257.06 L140.15,255.13 L141.10,256.70" stroke="#8a8a8a" stroke-width="1.0" fill="none" stroke-linejoin="round"/>
<path d="M26.70,336.02 L27.65,335.82 L28.61,336.22 L29.56,336.20 L30.51,337.23 L31.47,337.17 L32.42,337.14 L33.37,336.98 L34.33,336.77 L35.28,337.44 L36.23,337.08 L37.19,337.11 L38.14,336.91 L39.09,335.83 L40.05,335.89 L41.00,335.21 L41.95,335.45 L42.91,334.62 L43.86,334.45 L44.81,334.04 L45.77,332.89 L46.72,332.09 L47.67,331.94 L48.63,330.32 L49.58,329.22 L50.53,328.33 L51.49,326.81 L52.44,325.74 L53.39,324.05 L54.35,322.38 L55.30,320.35 L56.25,318.41 L57.21,317.07 L58.16,315.44 L59.11,312.94 L60.07,310.39 L61.02,308.92 L61.97,306.67 L62.93,304.72 L63.88,301.79 L64.83,299.97 L65.79,298.47 L66.74,296.27 L67.69,293.72 L68.65,291.35 L69.60,289.21 L70.55,287.97 L71.51,285.95 L72.46,283.27 L73.41,282.21 L74.37,281.21 L75.32,279.99 L76.27,277.83 L77.23,277.69 L78.18,276.20 L79.13,275.42 L80.09,274.22 L81.04,272.41 L81.99,271.08 L82.95,270.97 L83.90,270.12 L84.85,267.93 L85.81,267.58 L86.76,266.72 L87.71,263.89 L88.67,263.97 L89.62,262.08 L90.57,262.14 L91.53,259.96 L92.48,260.15 L93.43,260.23 L94.39,260.25 L95.34,258.15 L96.29,257.39 L97.25,256.22 L98.20,258.86 L99.15,256.74 L100.11,257.41 L101.06,256.71 L102.01,257.98 L102.97,257.49 L103.92,256.65 L104.87,255.21 L105.83,258.11 L106.78,256.75 L107.73,255.64 L108.69,255.06 L109.64,257.80 L110.59,258.05 L111.55,255.15 L112.50,255.03 L113.45,256.78 L114.41,258.31 L115.36,255.21 L116.31,257.12 L117.27,255.29 L118.22,256.29 L119.17,255.57 L120.13,257.93 L121.08,255.71 L122.03,257.71 L122.99,257.06 L123.94,255.49 L124.89,255.55 L125.85,257.85 L126.80,257.72 L127.75,257.08 L128.71,256.66 L129.66,257.13 L130.61,258.06 L131.57,257.62 L132.52,255.92 L133.47,255.31 L134.43,258.35 L135.38,256.50 L136.33,255.81 L137.29,258.36 L138.24,255.52 L139.19,258.08 L140.15,256.37 L141.10,256.54" stroke="#000" stroke-width="1.1" fill="none" stroke-linejoin="round"/>
<path d="M26.70,332.46 L27.65,332.61 L28.61,332.34 L29.56,332.01 L30.51,332.01 L31.47,331.60 L32.42,331.29 L33.37,330.76 L34.33,330.70 L35.28,328.94 L36.23,328.02 L37.19,327.25 L38.14,324.25 L39.09,321.87 L40.05,319.72 L41.00,317.39 L41.95,314.01 L42.91,311.17 L43.86,307.40 L44.81,303.13 L45.77,299.56 L46.72,294.85 L47.67,290.68 L48.63,287.52 L49.58,282.82 L50.53,279.85 L51.49,275.86 L52.44,273.30 L53.39,271.23 L54.35,270.20 L55.30,267.73 L56.25,266.31 L57.21,263.54 L58.16,263.72 L59.11,260.53 L60.07,258.62 L61.02,258.12 L61.97,256.76 L62.93,257.77 L63.88,254.16 L64.83,255.14 L65.79,252.89 L66.74,252.96 L67.69,255.78 L68.65,253.27 L69.60,252.63 L70.55,255.99 L71.51,254.90 L72.46,253.34 L73.41,255.66 L74.37,252.82 L75.32,255.24 L76.27,253.15 L77.23,255.77 L78.18,254.39 L79.13,252.78 L80.09,255.55 L81.04,255.35 L81.99,254.42 L82.95,255.15 L83.90,256.26 L84.85,255.70 L85.81,255.80 L86.76,252.80 L87.71,253.81 L88.67,252.98 L89.62,255.81 L90.57,253.43 L91.53,256.04 L92.48,254.44 L93.43,254.04 L94.39,255.12 L95.34,253.15 L96.29,254.39 L97.25,254.30 L98.20,253.14 L99.15,256.17 L100.11,252.73 L101.06,254.15 L102.01,255.08 L102.97,253.52 L103.92,255.60 L104.87,252.80 L105.83,254.41 L106.78,255.26 L107.73,253.71 L108.69,254.96 L109.64,256.00 L110.59,253.82 L111.55,256.52 L112.50,253.55 L113.45,255.75 L114.41,254.27 L115.36,252.94 L116.31,254.49 L117.27,254.20 L118.22,255.57 L119.17,256.79 L120.13,256.68 L121.08,256.24 L122.03,254.44 L122.99,255.17 L123.94,254.86 L124.89,253.39 L125.85,256.36 L126.80,256.00 L127.75,254.36 L128.71,256.82 L129.66,256.90 L130.61,255.55 L131.57,256.52 L132.52,255.56 L133.47,256.09 L134.43,254.71 L135.38,254.70 L136.33,256.20 L137.29,254.58 L138.24,255.17 L139.19,256.50 L140.15,253.41 L141.10,256.10" stroke="#000" stroke-width="1.2" fill="none" stroke-dasharray="2.2,1.8" stroke-linejoin="round"/>
<line x1="26.70" y1="245.00" x2="26.70" y2="343.30" stroke="#000" stroke-width="0.9"/>
<line x1="25.10" y1="254.30" x2="26.70" y2="254.30" stroke="#000" stroke-width="0.9"/>
<text x="23.50" y="256.78" font-size="6.9" font-weight="bold" text-anchor="end" fill="#000">100</text>
<line x1="25.10" y1="294.70" x2="26.70" y2="294.70" stroke="#000" stroke-width="0.9"/>
<text x="23.50" y="297.18" font-size="6.9" font-weight="bold" text-anchor="end" fill="#000">50</text>
<line x1="25.10" y1="335.00" x2="26.70" y2="335.00" stroke="#000" stroke-width="0.9"/>
<text x="23.50" y="337.48" font-size="6.9" font-weight="bold" text-anchor="end" fill="#000">0</text>
<line x1="26.70" y1="335.00" x2="141.30" y2="335.00" stroke="#000" stroke-width="0.9"/>
<line x1="55.30" y1="335.00" x2="55.30" y2="337.00" stroke="#000" stroke-width="0.9"/>
<text x="55.30" y="344.00" font-size="6.9" font-weight="bold" text-anchor="middle" fill="#000">30</text>
<line x1="83.90" y1="335.00" x2="83.90" y2="337.00" stroke="#000" stroke-width="0.9"/>
<text x="83.90" y="344.00" font-size="6.9" font-weight="bold" text-anchor="middle" fill="#000">60</text>
<line x1="112.50" y1="335.00" x2="112.50" y2="337.00" stroke="#000" stroke-width="0.9"/>
<text x="112.50" y="344.00" font-size="6.9" font-weight="bold" text-anchor="middle" fill="#000">90</text>
<line x1="141.10" y1="335.00" x2="141.10" y2="337.00" stroke="#000" stroke-width="0.9"/>
<text x="141.10" y="344.00" font-size="6.9" font-weight="bold" text-anchor="middle" fill="#000">120</text>
<text x="83.80" y="353.40" font-size="7.1" font-weight="bold" stroke="#000" stroke-width="0.3" text-anchor="middle" fill="#000">Time (min)</text>
<text x="8.30" y="292.00" font-size="8.0" font-weight="bold" stroke="#000" stroke-width="0.3" text-anchor="middle" fill="#000" transform="rotate(-90 8.30 292.00)">Thrombus degradation (%)</text>
<text x="146.90" y="257.50" font-size="6.2" font-weight="bold" text-anchor="start" fill="#000" textLength="32.10" lengthAdjust="spacingAndGlyphs">Fresh clots</text>
<line x1="146.30" y1="264.20" x2="148.60" y2="264.20" stroke="#000" stroke-width="1.3"/>
<line x1="150.60" y1="264.20" x2="152.90" y2="264.20" stroke="#000" stroke-width="1.3"/>
<text x="156.30" y="266.00" font-size="5.4" text-anchor="start" fill="#111" textLength="65.60" lengthAdjust="spacingAndGlyphs">PBS + Urokinase 200 U/mL</text>
<text x="146.90" y="279.90" font-size="6.2" font-weight="bold" text-anchor="start" fill="#000" textLength="30.10" lengthAdjust="spacingAndGlyphs">Aged clots</text>
<line x1="145.80" y1="289.20" x2="150.80" y2="289.20" stroke="#999" stroke-width="1.0"/>
<text x="155.00" y="288.60" font-size="5.4" text-anchor="start" fill="#111" textLength="42.30" lengthAdjust="spacingAndGlyphs">Reopro 20 µg/mL</text>
<text x="155.60" y="294.90" font-size="5.4" text-anchor="start" fill="#111" textLength="53.10" lengthAdjust="spacingAndGlyphs">+ Urokinase 200 U/mL</text>
<line x1="145.80" y1="301.70" x2="150.80" y2="301.70" stroke="#000" stroke-width="1.3"/>
<text x="155.00" y="303.80" font-size="5.4" text-anchor="start" fill="#111" textLength="65.00" lengthAdjust="spacingAndGlyphs">PBS + Urokinase 200 U/mL</text>
<text transform="translate(235.51 204.80) scale(0.7 1)" x="0" y="0" font-size="18.20" font-weight="bold" fill="#000" stroke="#000" stroke-width="1.0" stroke-linejoin="round">E</text>
<line x1="259.40" y1="209.60" x2="259.40" y2="261.40" stroke="#000" stroke-width="0.9"/>
<line x1="257.00" y1="210.10" x2="259.40" y2="210.10" stroke="#000" stroke-width="0.9"/>
<text x="256.40" y="211.86" font-size="4.9" font-weight="bold" text-anchor="end" fill="#111">40</text>
<line x1="257.00" y1="222.85" x2="259.40" y2="222.85" stroke="#000" stroke-width="0.9"/>
<text x="256.40" y="224.61" font-size="4.9" font-weight="bold" text-anchor="end" fill="#111">30</text>
<line x1="257.00" y1="235.60" x2="259.40" y2="235.60" stroke="#000" stroke-width="0.9"/>
<text x="256.40" y="237.36" font-size="4.9" font-weight="bold" text-anchor="end" fill="#111">20</text>
<line x1="257.00" y1="248.35" x2="259.40" y2="248.35" stroke="#000" stroke-width="0.9"/>
<text x="256.40" y="250.11" font-size="4.9" font-weight="bold" text-anchor="end" fill="#111">10</text>
<line x1="257.00" y1="261.10" x2="259.40" y2="261.10" stroke="#000" stroke-width="0.9"/>
<text x="256.40" y="262.86" font-size="4.9" font-weight="bold" text-anchor="end" fill="#111">0</text>
<line x1="259.40" y1="261.20" x2="336.60" y2="261.20" stroke="#000" stroke-width="0.9"/>
<line x1="278.90" y1="261.20" x2="278.90" y2="263.20" stroke="#000" stroke-width="0.9"/>
<line x1="317.60" y1="261.20" x2="317.60" y2="263.20" stroke="#000" stroke-width="0.9"/>
<text x="247.20" y="235.30" font-size="6.3" font-weight="bold" text-anchor="middle" fill="#222" transform="rotate(-90 247.20 235.30)">A<tspan font-size="4.8" dy="1.3">t</tspan><tspan dy="-1.3"> (min)</tspan></text>
<line x1="271.00" y1="203.40" x2="309.80" y2="203.40" stroke="#000" stroke-width="1.25"/>
<text x="290.10" y="204.53" font-size="6.5" font-weight="bold" stroke="#000" stroke-width="0.2" text-anchor="middle" fill="#000">*</text>
<line x1="271.00" y1="208.80" x2="285.20" y2="208.80" stroke="#000" stroke-width="1.25"/>
<text x="278.30" y="209.93" font-size="6.5" font-weight="bold" stroke="#000" stroke-width="0.2" text-anchor="middle" fill="#000">*</text>
<line x1="271.90" y1="214.69" x2="271.90" y2="239.04" stroke="#8a8a8a" stroke-width="0.8"/>
<line x1="269.90" y1="214.69" x2="273.90" y2="214.69" stroke="#8a8a8a" stroke-width="0.8"/>
<line x1="269.90" y1="239.04" x2="273.90" y2="239.04" stroke="#8a8a8a" stroke-width="0.8"/>
<line x1="267.10" y1="226.93" x2="276.70" y2="226.93" stroke="#8a8a8a" stroke-width="0.9"/>
<circle cx="273.20" cy="212.65" r="1.25" fill="#000"/>
<circle cx="270.00" cy="215.07" r="1.25" fill="#000"/>
<circle cx="271.90" cy="225.66" r="1.25" fill="#000"/>
<circle cx="273.20" cy="239.04" r="1.25" fill="#000"/>
<circle cx="270.00" cy="241.98" r="1.25" fill="#000"/>
<line x1="286.40" y1="241.98" x2="286.40" y2="251.16" stroke="#a8a8a8" stroke-width="0.8"/>
<line x1="284.40" y1="241.98" x2="288.40" y2="241.98" stroke="#a8a8a8" stroke-width="0.8"/>
<line x1="284.40" y1="251.16" x2="288.40" y2="251.16" stroke="#a8a8a8" stroke-width="0.8"/>
<line x1="281.60" y1="245.67" x2="291.20" y2="245.67" stroke="#a8a8a8" stroke-width="0.9"/>
<rect x="285.30" y="239.09" width="2.2" height="2.2" fill="#8a8a8a"/>
<rect x="282.60" y="241.64" width="2.2" height="2.2" fill="#8a8a8a"/>
<rect x="287.70" y="241.64" width="2.2" height="2.2" fill="#8a8a8a"/>
<rect x="284.80" y="244.96" width="2.2" height="2.2" fill="#8a8a8a"/>
<rect x="285.30" y="253.63" width="2.2" height="2.2" fill="#8a8a8a"/>
<line x1="310.10" y1="236.49" x2="310.10" y2="254.73" stroke="#8a8a8a" stroke-width="0.8"/>
<line x1="308.10" y1="236.49" x2="312.10" y2="236.49" stroke="#8a8a8a" stroke-width="0.8"/>
<line x1="308.10" y1="254.73" x2="312.10" y2="254.73" stroke="#8a8a8a" stroke-width="0.8"/>
<line x1="305.30" y1="245.55" x2="314.90" y2="245.55" stroke="#8a8a8a" stroke-width="0.9"/>
<circle cx="310.10" cy="234.33" r="1.25" fill="#000"/>
<circle cx="308.30" cy="244.14" r="1.25" fill="#000"/>
<circle cx="310.50" cy="243.25" r="1.25" fill="#000"/>
<circle cx="312.00" cy="246.95" r="1.25" fill="#000"/>
<circle cx="310.10" cy="259.95" r="1.25" fill="#000"/>
<text x="279.60" y="265.60" font-size="5.6" stroke="#000" stroke-width="0.15" text-anchor="end" fill="#000" transform="rotate(-45 279.60 265.60)">Aged clots</text>
<text x="318.30" y="265.60" font-size="5.6" stroke="#000" stroke-width="0.15" text-anchor="end" fill="#000" transform="rotate(-45 318.30 265.60)">Fresh clots</text>
<rect x="320.70" y="216.20" width="2.0" height="2.0" fill="#000"/>
<text x="328.00" y="218.80" font-size="4.9" text-anchor="start" fill="#111" textLength="43.80" lengthAdjust="spacingAndGlyphs">Urokinase 200 U/mL</text>
<rect x="320.70" y="228.00" width="2.0" height="2.0" fill="#999"/>
<text x="328.00" y="228.00" font-size="4.9" text-anchor="start" fill="#111">Reopro 20 µg/mL</text>
<text x="328.50" y="233.50" font-size="4.9" text-anchor="start" fill="#111" textLength="47.20" lengthAdjust="spacingAndGlyphs">+ Urokinase 200 U/mL</text>
<text transform="translate(235.13 299.70) scale(0.8 1)" x="0" y="0" font-size="18.20" font-weight="bold" fill="#000" stroke="#000" stroke-width="1.0" stroke-linejoin="round">F</text>
<line x1="261.50" y1="306.90" x2="261.50" y2="358.80" stroke="#000" stroke-width="0.9"/>
<line x1="259.10" y1="307.50" x2="261.50" y2="307.50" stroke="#000" stroke-width="0.9"/>
<text x="258.50" y="309.26" font-size="4.9" font-weight="bold" text-anchor="end" fill="#111">15</text>
<line x1="259.10" y1="324.50" x2="261.50" y2="324.50" stroke="#000" stroke-width="0.9"/>
<text x="258.50" y="326.26" font-size="4.9" font-weight="bold" text-anchor="end" fill="#111">10</text>
<line x1="259.10" y1="341.50" x2="261.50" y2="341.50" stroke="#000" stroke-width="0.9"/>
<text x="258.50" y="343.26" font-size="4.9" font-weight="bold" text-anchor="end" fill="#111">5</text>
<line x1="259.10" y1="358.50" x2="261.50" y2="358.50" stroke="#000" stroke-width="0.9"/>
<text x="258.50" y="360.26" font-size="4.9" font-weight="bold" text-anchor="end" fill="#111">0</text>
<line x1="261.50" y1="358.40" x2="337.70" y2="358.40" stroke="#000" stroke-width="0.9"/>
<line x1="280.30" y1="358.40" x2="280.30" y2="360.40" stroke="#000" stroke-width="0.9"/>
<line x1="318.70" y1="358.40" x2="318.70" y2="360.40" stroke="#000" stroke-width="0.9"/>
<text x="251.10" y="331.90" font-size="6.05" font-weight="bold" text-anchor="middle" fill="#222" transform="rotate(-90 251.10 331.90)">CLR<tspan font-size="4.4" dy="1.3">max</tspan><tspan dy="-1.3"> (min</tspan><tspan font-size="4.4" dy="-2.2">-1</tspan><tspan dy="2.2">)</tspan></text>
<line x1="272.50" y1="305.50" x2="310.80" y2="305.50" stroke="#000" stroke-width="1.25"/>
<text x="286.40" y="305.74" font-size="6.760000000000001" font-weight="bold" stroke="#000" stroke-width="0.2" text-anchor="middle" fill="#000">*</text>
<text x="289.80" y="305.74" font-size="6.760000000000001" font-weight="bold" stroke="#000" stroke-width="0.2" text-anchor="middle" fill="#000">*</text>
<text x="293.20" y="305.74" font-size="6.760000000000001" font-weight="bold" stroke="#000" stroke-width="0.2" text-anchor="middle" fill="#000">*</text>
<text x="296.60" y="305.74" font-size="6.760000000000001" font-weight="bold" stroke="#000" stroke-width="0.2" text-anchor="middle" fill="#000">*</text>
<line x1="288.00" y1="311.00" x2="310.80" y2="311.00" stroke="#000" stroke-width="1.25"/>
<text x="297.60" y="311.64" font-size="6.760000000000001" font-weight="bold" stroke="#000" stroke-width="0.2" text-anchor="middle" fill="#000">*</text>
<text x="301.00" y="311.64" font-size="6.760000000000001" font-weight="bold" stroke="#000" stroke-width="0.2" text-anchor="middle" fill="#000">*</text>
<line x1="273.30" y1="340.14" x2="273.30" y2="345.24" stroke="#000" stroke-width="0.8"/>
<line x1="271.30" y1="340.14" x2="275.30" y2="340.14" stroke="#000" stroke-width="0.8"/>
<line x1="271.30" y1="345.24" x2="275.30" y2="345.24" stroke="#000" stroke-width="0.8"/>
<line x1="269.40" y1="342.69" x2="277.20" y2="342.69" stroke="#000" stroke-width="0.9"/>
<circle cx="271.70" cy="338.78" r="1.2" fill="#000"/>
<circle cx="273.30" cy="340.48" r="1.2" fill="#000"/>
<circle cx="275.00" cy="341.84" r="1.2" fill="#000"/>
<circle cx="271.70" cy="343.88" r="1.2" fill="#000"/>
<circle cx="273.30" cy="345.92" r="1.2" fill="#000"/>
<circle cx="275.00" cy="344.56" r="1.2" fill="#000"/>
<line x1="288.00" y1="329.94" x2="288.00" y2="340.48" stroke="#a0a0a0" stroke-width="0.8"/>
<line x1="286.00" y1="329.94" x2="290.00" y2="329.94" stroke="#a0a0a0" stroke-width="0.8"/>
<line x1="286.00" y1="340.48" x2="290.00" y2="340.48" stroke="#a0a0a0" stroke-width="0.8"/>
<line x1="283.40" y1="335.52" x2="292.60" y2="335.52" stroke="#a0a0a0" stroke-width="0.9"/>
<circle cx="288.00" cy="326.54" r="1.25" fill="#8a8a8a"/>
<circle cx="289.20" cy="333.34" r="1.25" fill="#8a8a8a"/>
<circle cx="287.00" cy="336.06" r="1.25" fill="#8a8a8a"/>
<circle cx="289.70" cy="337.76" r="1.25" fill="#8a8a8a"/>
<circle cx="287.00" cy="342.18" r="1.25" fill="#8a8a8a"/>
<line x1="310.80" y1="316.68" x2="310.80" y2="326.88" stroke="#000" stroke-width="0.8"/>
<line x1="308.80" y1="316.68" x2="312.80" y2="316.68" stroke="#000" stroke-width="0.8"/>
<line x1="308.80" y1="326.88" x2="312.80" y2="326.88" stroke="#000" stroke-width="0.8"/>
<line x1="306.40" y1="321.78" x2="315.20" y2="321.78" stroke="#000" stroke-width="0.9"/>
<circle cx="311.70" cy="313.96" r="1.2" fill="#000"/>
<circle cx="309.20" cy="323.14" r="1.2" fill="#000"/>
<circle cx="311.30" cy="321.10" r="1.2" fill="#000"/>
<circle cx="313.00" cy="324.84" r="1.2" fill="#000"/>
<circle cx="310.00" cy="325.86" r="1.2" fill="#000"/>
<circle cx="313.70" cy="325.86" r="1.2" fill="#000"/>
<text x="281.00" y="362.30" font-size="5.6" stroke="#000" stroke-width="0.15" text-anchor="end" fill="#000" transform="rotate(-45 281.00 362.30)">Aged clots</text>
<text x="319.40" y="362.30" font-size="5.6" stroke="#000" stroke-width="0.15" text-anchor="end" fill="#000" transform="rotate(-45 319.40 362.30)">Fresh clots</text>
<circle cx="328.60" cy="313.90" r="1.0" fill="#000"/>
<text x="333.60" y="315.60" font-size="4.9" text-anchor="start" fill="#111">Urokinase 200 U/mL</text>
<circle cx="328.40" cy="327.40" r="1.0" fill="#999"/>
<text x="333.60" y="326.60" font-size="4.9" text-anchor="start" fill="#111">Reopro 20 µg/mL</text>
<text x="334.00" y="332.00" font-size="4.9" text-anchor="start" fill="#111">+ Urokinase 200 U/mL</text>
<text transform="translate(414.11 216.00) scale(0.82 1)" x="0" y="0" font-size="19.76" font-weight="bold" fill="#000" stroke="#000" stroke-width="0.8" stroke-linejoin="round">G</text>
<text x="524.75" y="224.10" font-size="13.0" font-weight="bold" stroke="#000" stroke-width="0.3" text-anchor="middle" fill="#000">Plasmin</text>
<path d="M448.20,335.30 L449.34,330.96 L450.47,329.59 L451.61,327.11 L452.75,320.06 L453.88,317.29 L455.02,311.72 L456.16,303.29 L457.29,296.66 L458.43,293.26 L459.57,290.82 L460.70,285.05 L461.84,282.77 L462.98,280.05 L464.11,275.08 L465.25,272.13 L466.39,270.04 L467.52,268.32 L468.66,263.98 L469.80,263.07 L470.93,264.04 L472.07,262.72 L473.21,259.07 L474.34,257.41 L475.48,255.68 L476.62,259.20 L477.75,254.02 L478.89,252.96 L480.03,256.59 L481.16,252.66 L482.30,255.32 L483.44,250.56 L484.57,253.96 L485.71,253.50 L486.85,249.74 L487.98,250.43 L489.12,251.78 L490.26,251.70 L491.39,251.41 L492.53,250.60 L493.67,246.69 L494.80,249.55 L495.94,249.73 L497.08,246.42 L498.21,249.73 L499.35,248.93 L500.49,246.02 L501.62,248.01 L502.76,248.72 L503.90,247.74 L505.03,246.88 L506.17,243.86 L507.31,245.45 L508.44,247.07 L509.58,243.41 L510.72,246.30 L511.85,243.76 L512.99,246.10 L514.13,242.63 L515.26,244.61 L516.40,246.27 L517.54,245.23 L518.67,245.07 L519.81,243.40 L520.95,245.32 L522.08,245.75 L523.22,243.36 L524.36,243.03 L525.49,241.53 L526.63,245.72 L527.77,243.62 L528.90,244.83 L530.04,242.88 L531.18,243.80 L532.31,240.80 L533.45,242.10 L534.59,244.63 L535.72,245.13 L536.86,241.83 L538.00,244.97 L539.13,242.74 L540.27,243.48 L541.41,244.62 L542.54,241.48 L543.68,241.47 L544.82,241.19 L545.95,243.27 L547.09,240.66 L548.23,242.94 L549.36,240.82 L550.50,241.94 L551.64,242.13 L552.77,244.49 L553.91,240.16 L555.05,241.41 L556.18,241.36 L557.32,242.75 L558.46,244.42 L559.59,244.67 L560.73,242.52 L561.87,241.48 L563.00,241.87 L564.14,243.56 L565.28,243.33 L566.41,243.79 L567.55,240.45 L568.69,242.63 L569.82,243.17 L570.96,243.76 L572.10,240.88 L573.23,240.54 L574.37,241.99 L575.51,244.17 L576.64,240.93 L577.78,241.59 L578.92,243.71 L580.05,242.96 L581.19,244.15 L582.33,242.27 L583.46,243.80 L584.60,240.70 L584.60,264.52 L583.46,266.33 L582.33,264.66 L581.19,264.24 L580.05,263.55 L578.92,263.01 L577.78,266.67 L576.64,266.15 L575.51,264.45 L574.37,263.56 L573.23,263.87 L572.10,266.39 L570.96,264.15 L569.82,265.30 L568.69,266.41 L567.55,265.36 L566.41,263.08 L565.28,265.53 L564.14,262.41 L563.00,266.76 L561.87,264.80 L560.73,263.58 L559.59,265.37 L558.46,266.12 L557.32,266.58 L556.18,265.40 L555.05,264.54 L553.91,266.90 L552.77,265.81 L551.64,265.70 L550.50,264.67 L549.36,265.62 L548.23,266.69 L547.09,267.11 L545.95,266.27 L544.82,267.40 L543.68,266.45 L542.54,267.42 L541.41,265.79 L540.27,267.97 L539.13,266.76 L538.00,266.40 L536.86,268.05 L535.72,267.91 L534.59,263.87 L533.45,266.58 L532.31,267.02 L531.18,268.24 L530.04,264.75 L528.90,265.98 L527.77,264.62 L526.63,265.71 L525.49,265.50 L524.36,265.96 L523.22,268.77 L522.08,265.92 L520.95,268.35 L519.81,266.43 L518.67,269.04 L517.54,268.58 L516.40,269.92 L515.26,266.04 L514.13,268.64 L512.99,270.54 L511.85,270.75 L510.72,267.46 L509.58,270.69 L508.44,267.81 L507.31,271.44 L506.17,269.89 L505.03,270.01 L503.90,271.00 L502.76,271.20 L501.62,269.09 L500.49,270.59 L499.35,270.55 L498.21,274.30 L497.08,272.95 L495.94,272.08 L494.80,274.69 L493.67,274.63 L492.53,272.47 L491.39,273.57 L490.26,275.01 L489.12,275.82 L487.98,274.90 L486.85,274.09 L485.71,274.04 L484.57,275.49 L483.44,278.54 L482.30,277.17 L481.16,277.34 L480.03,279.50 L478.89,278.92 L477.75,279.85 L476.62,279.35 L475.48,283.23 L474.34,282.11 L473.21,283.32 L472.07,283.01 L470.93,285.06 L469.80,288.70 L468.66,291.57 L467.52,289.82 L466.39,293.41 L465.25,295.35 L464.11,298.74 L462.98,299.84 L461.84,302.13 L460.70,305.00 L459.57,308.66 L458.43,314.50 L457.29,319.30 L456.16,318.41 L455.02,325.82 L453.88,327.21 L452.75,333.03 L451.61,334.85 L450.47,337.42 L449.34,338.38 L448.20,339.14Z" fill="#e6e6e6" stroke="none"/>
<path d="M448.20,332.67 L449.34,327.80 L450.47,326.94 L451.61,326.99 L452.75,326.32 L453.88,322.29 L455.02,318.66 L456.16,320.19 L457.29,316.11 L458.43,314.27 L459.57,311.52 L460.70,310.50 L461.84,309.86 L462.98,310.39 L464.11,305.39 L465.25,305.83 L466.39,302.19 L467.52,300.97 L468.66,300.41 L469.80,296.46 L470.93,294.89 L472.07,297.35 L473.21,293.74 L474.34,293.72 L475.48,290.22 L476.62,288.78 L477.75,289.06 L478.89,287.68 L480.03,287.05 L481.16,288.09 L482.30,283.44 L483.44,284.63 L484.57,284.72 L485.71,281.24 L486.85,283.95 L487.98,280.85 L489.12,280.33 L490.26,278.07 L491.39,277.39 L492.53,278.86 L493.67,279.06 L494.80,276.58 L495.94,274.39 L497.08,273.25 L498.21,272.61 L499.35,275.43 L500.49,274.47 L501.62,272.20 L502.76,270.60 L503.90,272.47 L505.03,269.30 L506.17,271.66 L507.31,267.47 L508.44,268.82 L509.58,268.56 L510.72,267.81 L511.85,265.66 L512.99,267.94 L514.13,266.77 L515.26,265.80 L516.40,266.17 L517.54,263.84 L518.67,266.74 L519.81,267.09 L520.95,263.53 L522.08,264.86 L523.22,265.94 L524.36,262.20 L525.49,262.62 L526.63,265.12 L527.77,262.52 L528.90,263.82 L530.04,264.74 L531.18,264.41 L532.31,263.56 L533.45,261.99 L534.59,262.48 L535.72,261.51 L536.86,262.81 L538.00,260.52 L539.13,259.31 L540.27,259.12 L541.41,259.53 L542.54,258.62 L543.68,261.26 L544.82,261.58 L545.95,258.28 L547.09,261.21 L548.23,260.97 L549.36,258.12 L550.50,258.18 L551.64,259.87 L552.77,261.55 L553.91,258.27 L555.05,256.77 L556.18,258.82 L557.32,258.69 L558.46,260.03 L559.59,260.28 L560.73,258.03 L561.87,257.81 L563.00,259.49 L564.14,256.26 L565.28,255.71 L566.41,259.67 L567.55,257.64 L568.69,258.14 L569.82,257.13 L570.96,256.60 L572.10,256.02 L573.23,258.37 L574.37,255.62 L575.51,258.09 L576.64,256.48 L577.78,254.57 L578.92,255.35 L580.05,255.60 L581.19,255.63 L582.33,253.71 L583.46,257.02 L584.60,254.65 L584.60,278.88 L583.46,279.58 L582.33,279.19 L581.19,277.88 L580.05,277.51 L578.92,279.78 L577.78,279.61 L576.64,276.00 L575.51,276.82 L574.37,278.06 L573.23,278.40 L572.10,280.36 L570.96,276.54 L569.82,278.63 L568.69,278.93 L567.55,280.47 L566.41,281.49 L565.28,277.57 L564.14,281.94 L563.00,278.36 L561.87,278.22 L560.73,280.11 L559.59,277.99 L558.46,278.29 L557.32,281.34 L556.18,281.82 L555.05,278.93 L553.91,282.83 L552.77,279.61 L551.64,282.05 L550.50,279.54 L549.36,281.08 L548.23,279.69 L547.09,282.80 L545.95,280.14 L544.82,284.37 L543.68,284.15 L542.54,281.42 L541.41,283.89 L540.27,281.30 L539.13,283.26 L538.00,283.07 L536.86,283.79 L535.72,281.80 L534.59,283.24 L533.45,283.60 L532.31,282.71 L531.18,284.43 L530.04,285.72 L528.90,285.46 L527.77,284.32 L526.63,284.14 L525.49,283.44 L524.36,284.22 L523.22,286.79 L522.08,285.64 L520.95,288.67 L519.81,286.77 L518.67,287.28 L517.54,289.76 L516.40,287.70 L515.26,286.41 L514.13,288.79 L512.99,290.65 L511.85,289.72 L510.72,287.83 L509.58,290.50 L508.44,289.51 L507.31,291.55 L506.17,293.69 L505.03,294.59 L503.90,292.78 L502.76,294.27 L501.62,294.72 L500.49,296.32 L499.35,295.99 L498.21,294.53 L497.08,297.08 L495.94,298.65 L494.80,299.48 L493.67,297.45 L492.53,301.20 L491.39,299.02 L490.26,299.23 L489.12,299.80 L487.98,304.11 L486.85,303.45 L485.71,303.96 L484.57,307.56 L483.44,307.94 L482.30,309.73 L481.16,310.00 L480.03,309.75 L478.89,310.86 L477.75,308.63 L476.62,310.57 L475.48,312.90 L474.34,312.58 L473.21,315.01 L472.07,313.73 L470.93,315.97 L469.80,314.02 L468.66,318.51 L467.52,319.57 L466.39,319.68 L465.25,320.10 L464.11,320.59 L462.98,323.27 L461.84,323.17 L460.70,324.52 L459.57,329.33 L458.43,328.76 L457.29,328.57 L456.16,327.41 L455.02,329.01 L453.88,328.81 L452.75,330.26 L451.61,334.37 L450.47,334.13 L449.34,332.21 L448.20,332.23Z" fill="#e8e8e8" stroke="none"/>
<path d="M448.20,332.45 L449.34,332.05 L450.47,330.45 L451.61,328.90 L452.75,327.57 L453.88,325.89 L455.02,324.57 L456.16,323.82 L457.29,322.17 L458.43,321.60 L459.57,319.81 L460.70,318.21 L461.84,317.31 L462.98,315.32 L464.11,313.41 L465.25,311.89 L466.39,310.95 L467.52,308.54 L468.66,307.45 L469.80,306.42 L470.93,304.75 L472.07,303.69 L473.21,302.55 L474.34,301.75 L475.48,299.96 L476.62,299.44 L477.75,298.37 L478.89,297.40 L480.03,296.26 L481.16,296.68 L482.30,295.05 L483.44,293.96 L484.57,293.65 L485.71,292.51 L486.85,292.03 L487.98,290.89 L489.12,289.88 L490.26,289.53 L491.39,288.60 L492.53,287.01 L493.67,286.75 L494.80,286.08 L495.94,284.83 L497.08,284.73 L498.21,283.54 L499.35,283.39 L500.49,282.53 L501.62,282.88 L502.76,281.56 L503.90,280.71 L505.03,281.00 L506.17,279.17 L507.31,279.53 L508.44,278.65 L509.58,278.63 L510.72,277.77 L511.85,277.20 L512.99,277.51 L514.13,275.92 L515.26,276.27 L516.40,275.78 L517.54,275.33 L518.67,275.29 L519.81,275.04 L520.95,274.27 L522.08,274.13 L523.22,274.23 L524.36,273.38 L525.49,273.67 L526.63,273.78 L527.77,273.20 L528.90,273.20 L530.04,272.78 L531.18,271.75 L532.31,271.99 L533.45,271.07 L534.59,271.03 L535.72,271.71 L536.86,270.22 L538.00,270.04 L539.13,270.97 L540.27,269.73 L541.41,270.22 L542.54,270.02 L543.68,269.22 L544.82,270.05 L545.95,269.54 L547.09,268.85 L548.23,269.00 L549.36,269.20 L550.50,268.38 L551.64,268.45 L552.77,268.59 L553.91,269.10 L555.05,268.28 L556.18,268.36 L557.32,268.56 L558.46,268.61 L559.59,267.84 L560.73,268.24 L561.87,267.67 L563.00,267.24 L564.14,267.38 L565.28,267.51 L566.41,266.95 L567.55,267.03 L568.69,266.42 L569.82,266.61 L570.96,265.88 L572.10,265.83 L573.23,266.01 L574.37,266.56 L575.51,266.62 L576.64,265.47 L577.78,265.51 L578.92,265.61 L580.05,265.85 L581.19,265.86 L582.33,265.20 L583.46,265.25 L584.60,265.11" stroke="#000" stroke-width="1.25" fill="none" stroke-dasharray="2.4,1.8" stroke-linejoin="round"/>
<path d="M448.20,337.47 L449.34,335.45 L450.47,334.15 L451.61,330.42 L452.75,325.67 L453.88,320.99 L455.02,316.28 L456.16,312.71 L457.29,307.98 L458.43,303.90 L459.57,299.88 L460.70,295.30 L461.84,292.19 L462.98,288.07 L464.11,285.86 L465.25,283.21 L466.39,280.06 L467.52,278.40 L468.66,276.38 L469.80,275.34 L470.93,273.60 L472.07,272.79 L473.21,271.11 L474.34,268.77 L475.48,267.39 L476.62,268.23 L477.75,267.38 L478.89,264.76 L480.03,264.60 L481.16,263.61 L482.30,264.65 L483.44,263.36 L484.57,263.20 L485.71,260.98 L486.85,261.88 L487.98,260.47 L489.12,258.97 L490.26,260.81 L491.39,259.67 L492.53,258.59 L493.67,257.57 L494.80,259.06 L495.94,258.98 L497.08,259.68 L498.21,256.60 L499.35,259.18 L500.49,258.88 L501.62,256.86 L502.76,256.87 L503.90,255.86 L505.03,256.97 L506.17,255.00 L507.31,257.27 L508.44,256.53 L509.58,254.67 L510.72,256.50 L511.85,255.46 L512.99,253.69 L514.13,253.56 L515.26,254.78 L516.40,255.12 L517.54,254.26 L518.67,252.84 L519.81,254.04 L520.95,254.85 L522.08,252.63 L523.22,253.04 L524.36,251.70 L525.49,251.53 L526.63,251.54 L527.77,253.16 L528.90,251.75 L530.04,253.45 L531.18,253.30 L532.31,252.92 L533.45,250.90 L534.59,250.95 L535.72,253.18 L536.86,252.67 L538.00,252.56 L539.13,252.48 L540.27,252.33 L541.41,252.33 L542.54,252.99 L543.68,251.63 L544.82,250.76 L545.95,251.65 L547.09,250.56 L548.23,251.51 L549.36,252.87 L550.50,250.74 L551.64,250.27 L552.77,252.39 L553.91,253.29 L555.05,251.49 L556.18,251.36 L557.32,251.24 L558.46,249.77 L559.59,250.88 L560.73,250.29 L561.87,252.92 L563.00,251.16 L564.14,250.26 L565.28,252.76 L566.41,252.73 L567.55,250.35 L568.69,249.73 L569.82,252.63 L570.96,250.62 L572.10,252.35 L573.23,250.16 L574.37,250.55 L575.51,252.05 L576.64,252.19 L577.78,250.28 L578.92,251.20 L580.05,250.37 L581.19,251.75 L582.33,252.00 L583.46,249.78 L584.60,250.89" stroke="#888" stroke-width="1.0" fill="none" stroke-linejoin="round"/>
<path d="M448.20,337.61 L449.34,335.86 L450.47,333.96 L451.61,330.65 L452.75,326.88 L453.88,323.24 L455.02,318.12 L456.16,313.71 L457.29,308.70 L458.43,304.96 L459.57,301.12 L460.70,296.74 L461.84,292.60 L462.98,289.78 L464.11,286.90 L465.25,283.89 L466.39,281.70 L467.52,280.56 L468.66,278.72 L469.80,277.73 L470.93,274.91 L472.07,272.87 L473.21,272.98 L474.34,272.19 L475.48,271.03 L476.62,269.36 L477.75,269.01 L478.89,266.35 L480.03,268.37 L481.16,267.11 L482.30,267.19 L483.44,264.87 L484.57,263.78 L485.71,265.30 L486.85,265.27 L487.98,263.44 L489.12,262.64 L490.26,261.07 L491.39,264.00 L492.53,263.41 L493.67,262.79 L494.80,262.41 L495.94,262.08 L497.08,259.91 L498.21,260.14 L499.35,261.36 L500.49,261.26 L501.62,260.62 L502.76,260.80 L503.90,258.22 L505.03,259.74 L506.17,258.58 L507.31,257.29 L508.44,258.41 L509.58,259.06 L510.72,256.35 L511.85,256.02 L512.99,258.07 L514.13,257.03 L515.26,255.19 L516.40,256.93 L517.54,257.91 L518.67,258.53 L519.81,254.90 L520.95,255.42 L522.08,257.01 L523.22,256.38 L524.36,256.37 L525.49,257.26 L526.63,254.36 L527.77,255.62 L528.90,257.22 L530.04,258.05 L531.18,256.15 L532.31,256.49 L533.45,254.73 L534.59,255.00 L535.72,255.36 L536.86,257.08 L538.00,257.01 L539.13,256.29 L540.27,256.53 L541.41,254.11 L542.54,255.51 L543.68,255.02 L544.82,253.61 L545.95,256.49 L547.09,255.42 L548.23,256.94 L549.36,254.48 L550.50,257.53 L551.64,254.27 L552.77,254.17 L553.91,254.26 L555.05,257.20 L556.18,256.45 L557.32,254.67 L558.46,257.13 L559.59,255.60 L560.73,255.65 L561.87,253.71 L563.00,255.17 L564.14,254.09 L565.28,256.29 L566.41,254.36 L567.55,255.83 L568.69,253.84 L569.82,257.12 L570.96,254.20 L572.10,256.65 L573.23,255.31 L574.37,255.46 L575.51,257.00 L576.64,254.40 L577.78,256.54 L578.92,256.62 L580.05,257.63 L581.19,256.79 L582.33,256.22 L583.46,255.31 L584.60,256.80" stroke="#000" stroke-width="1.0" fill="none" stroke-linejoin="round"/>
<line x1="448.20" y1="232.50" x2="448.20" y2="347.30" stroke="#000" stroke-width="0.9"/>
<line x1="446.60" y1="243.00" x2="448.20" y2="243.00" stroke="#000" stroke-width="0.9"/>
<text x="445.20" y="245.20" font-size="7.9" font-weight="bold" stroke="#000" stroke-width="0.3" text-anchor="end" fill="#000">100</text>
<line x1="446.60" y1="290.30" x2="448.20" y2="290.30" stroke="#000" stroke-width="0.9"/>
<text x="445.20" y="292.50" font-size="7.9" font-weight="bold" stroke="#000" stroke-width="0.3" text-anchor="end" fill="#000">50</text>
<line x1="446.60" y1="337.60" x2="448.20" y2="337.60" stroke="#000" stroke-width="0.9"/>
<text x="445.20" y="339.80" font-size="7.9" font-weight="bold" stroke="#000" stroke-width="0.3" text-anchor="end" fill="#000">0</text>
<line x1="448.20" y1="337.60" x2="584.80" y2="337.60" stroke="#000" stroke-width="0.9"/>
<line x1="482.30" y1="337.60" x2="482.30" y2="339.60" stroke="#000" stroke-width="0.9"/>
<text x="482.30" y="348.00" font-size="7.6" font-weight="bold" stroke="#000" stroke-width="0.3" text-anchor="middle" fill="#000">30</text>
<line x1="516.40" y1="337.60" x2="516.40" y2="339.60" stroke="#000" stroke-width="0.9"/>
<text x="516.40" y="348.00" font-size="7.6" font-weight="bold" stroke="#000" stroke-width="0.3" text-anchor="middle" fill="#000">60</text>
<line x1="550.50" y1="337.60" x2="550.50" y2="339.60" stroke="#000" stroke-width="0.9"/>
<text x="550.50" y="348.00" font-size="7.6" font-weight="bold" stroke="#000" stroke-width="0.3" text-anchor="middle" fill="#000">90</text>
<line x1="584.60" y1="337.60" x2="584.60" y2="339.60" stroke="#000" stroke-width="0.9"/>
<text x="584.60" y="348.00" font-size="7.6" font-weight="bold" stroke="#000" stroke-width="0.3" text-anchor="middle" fill="#000">120</text>
<text x="516.50" y="359.20" font-size="8.15" font-weight="bold" stroke="#000" stroke-width="0.3" text-anchor="middle" fill="#000">Time (min)</text>
<text x="425.60" y="283.60" font-size="9.0" font-weight="bold" stroke="#000" stroke-width="0.3" text-anchor="middle" fill="#000" transform="rotate(-90 425.60 283.60)">Thrombus degradation (%)</text>
<text x="591.90" y="239.90" font-size="7.0" font-weight="bold" stroke="#000" stroke-width="0.3" text-anchor="start" fill="#000" textLength="35.60" lengthAdjust="spacingAndGlyphs">Aged clots</text>
<line x1="591.50" y1="249.40" x2="598.80" y2="249.40" stroke="#999" stroke-width="1.0"/>
<text x="603.00" y="247.90" font-size="6.0" text-anchor="start" fill="#111" textLength="51.00" lengthAdjust="spacingAndGlyphs">Reopro 20 µg/mL</text>
<text x="603.00" y="254.80" font-size="6.0" text-anchor="start" fill="#111" textLength="55.00" lengthAdjust="spacingAndGlyphs">+ Plasmin 0.1 U/mL</text>
<line x1="591.50" y1="266.30" x2="598.80" y2="266.30" stroke="#000" stroke-width="1.3"/>
<text x="603.00" y="268.40" font-size="6.0" text-anchor="start" fill="#111" textLength="69.70" lengthAdjust="spacingAndGlyphs">PBS + Plasmin 0.1 U/mL</text>
<text x="591.90" y="289.90" font-size="7.0" font-weight="bold" stroke="#000" stroke-width="0.3" text-anchor="start" fill="#000" textLength="37.50" lengthAdjust="spacingAndGlyphs">Fresh clots</text>
<line x1="591.50" y1="296.90" x2="594.30" y2="296.90" stroke="#000" stroke-width="1.3"/>
<line x1="596.20" y1="296.90" x2="599.00" y2="296.90" stroke="#000" stroke-width="1.3"/>
<text x="603.00" y="299.00" font-size="6.0" text-anchor="start" fill="#111" textLength="69.70" lengthAdjust="spacingAndGlyphs">PBS + Plasmin 0.1 U/mL</text>
</svg>
</body></html>
